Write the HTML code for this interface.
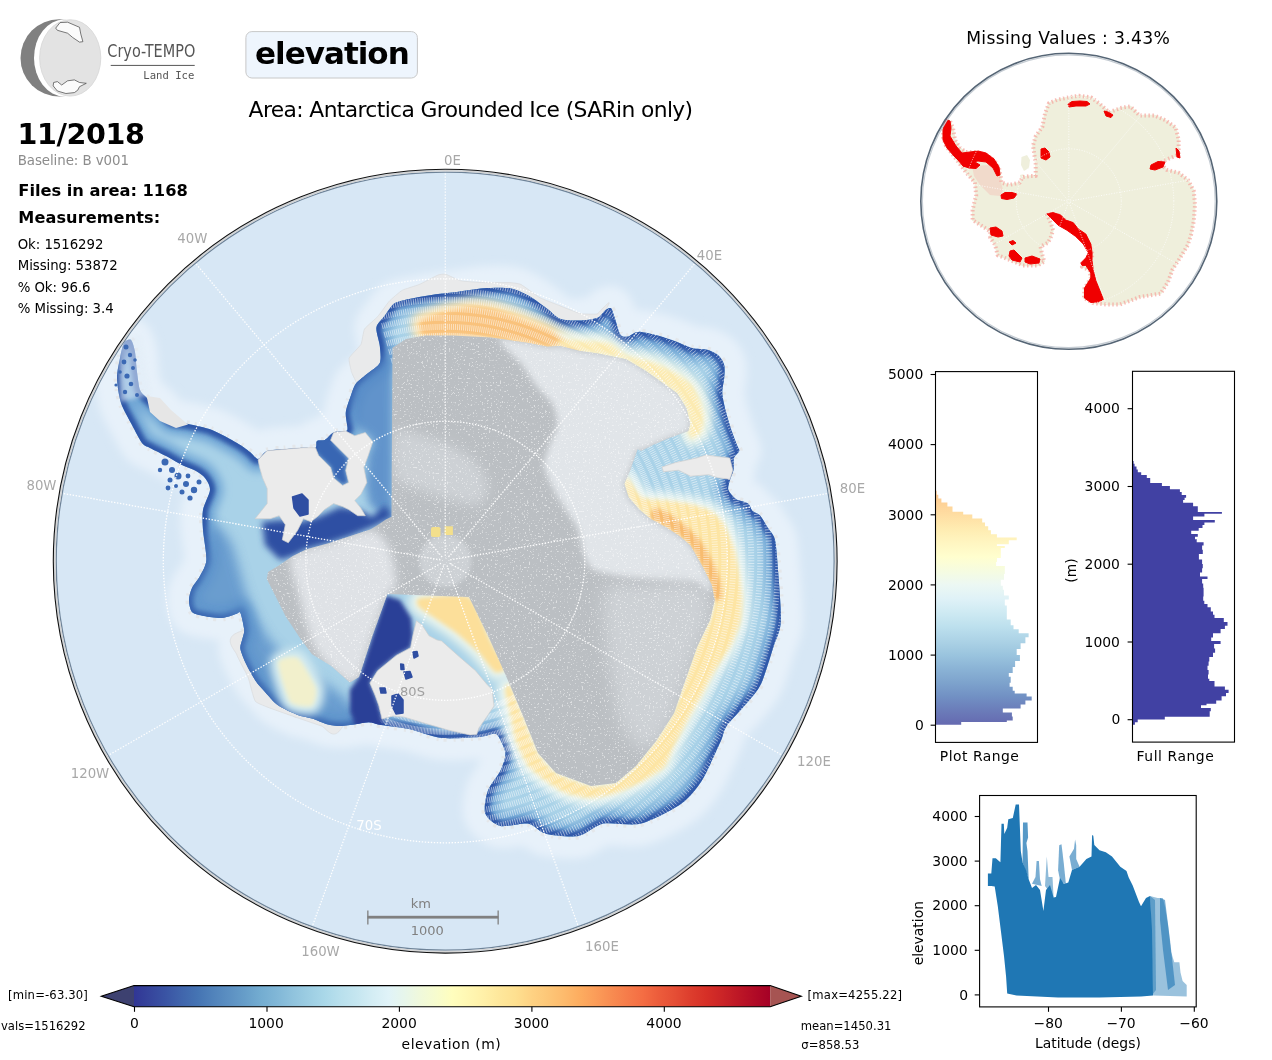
<!DOCTYPE html>
<html><head><meta charset="utf-8"><title>elevation</title>
<style>
html,body{margin:0;padding:0;background:#fff;}
body{width:1272px;height:1060px;overflow:hidden;position:relative;}
svg{position:absolute;left:0;top:0;will-change:transform;}
</style></head><body>
<svg width="1272" height="1060" viewBox="0 0 1272 1060" font-family="'DejaVu Sans', sans-serif">
<g id="logo">
<circle cx="59.1" cy="57.9" r="38.6" fill="#808080"/>
<ellipse cx="64" cy="57.9" rx="30" ry="38.4" fill="#ffffff"/>
<ellipse cx="70.2" cy="57.9" rx="30.6" ry="38.2" fill="#e3e3e3" stroke="#d6d6d6" stroke-width="0.8"/>
<polygon points="55.7,28.1 60,22.6 67.6,22.2 79.5,27.3 80.8,34.1 82.9,41.7 79.5,42.1 72.7,37.5 67.6,33.2 57.4,30.3" fill="#fbfbfb" stroke="#444" stroke-width="0.7"/>
<polygon points="53.6,82.5 57.4,81.6 61.7,85 67.6,80.8 74.4,79.9 79.5,82.5 86.3,83.3 79.5,86.7 77.8,90.1 74.4,92.6 65.9,93.5 57.4,91 53.2,85.9" fill="#fbfbfb" stroke="#444" stroke-width="0.7"/>
<text x="107.3" y="57.1" font-family="'DejaVu Sans Condensed','DejaVu Sans',sans-serif" font-size="17.5" fill="#555" textLength="88" lengthAdjust="spacingAndGlyphs">Cryo-TEMPO</text>
<rect x="110.7" y="64.9" width="84" height="1.1" fill="#666"/>
<text x="143.3" y="79" font-family="'DejaVu Sans Mono',monospace" font-size="11" fill="#555" textLength="51" lengthAdjust="spacingAndGlyphs">Land Ice</text>
</g>
<rect x="245.9" y="31.6" width="171.5" height="46.4" rx="6" ry="6" fill="#eef5fd" stroke="#c8c8c8" stroke-width="1"/>
<text x="255.10" y="64.10" font-family="'DejaVu Sans',sans-serif" font-size="31" font-weight="bold" fill="#000" textLength="154.62" lengthAdjust="spacing">elevation</text>
<text x="248.60" y="117.00" font-family="'DejaVu Sans',sans-serif" font-size="21.8" fill="#000" textLength="444.52" lengthAdjust="spacing">Area: Antarctica Grounded Ice (SARin only)</text>
<text x="17.60" y="143.90" font-family="'DejaVu Sans',sans-serif" font-size="28.6" font-weight="bold" fill="#000" textLength="127.23" lengthAdjust="spacing">11/2018</text>
<text x="17.70" y="165.10" font-family="'DejaVu Sans',sans-serif" font-size="13.4" fill="#8c8c8c" textLength="111.27" lengthAdjust="spacing">Baseline: B v001</text>
<text x="18.30" y="196.20" font-family="'DejaVu Sans',sans-serif" font-size="16.3" font-weight="bold" fill="#000" textLength="169.48" lengthAdjust="spacing">Files in area: 1168</text>
<text x="18.30" y="222.80" font-family="'DejaVu Sans',sans-serif" font-size="16.1" font-weight="bold" fill="#000" textLength="141.83" lengthAdjust="spacing">Measurements:</text>
<text x="17.70" y="248.90" font-family="'DejaVu Sans',sans-serif" font-size="13.3" fill="#000" textLength="85.69" lengthAdjust="spacing">Ok: 1516292</text>
<text x="17.70" y="269.80" font-family="'DejaVu Sans',sans-serif" font-size="13.3" fill="#000" textLength="99.99" lengthAdjust="spacing">Missing: 53872</text>
<text x="17.70" y="291.80" font-family="'DejaVu Sans',sans-serif" font-size="13.3" fill="#000" textLength="72.84" lengthAdjust="spacing">% Ok: 96.6</text>
<text x="17.70" y="313.00" font-family="'DejaVu Sans',sans-serif" font-size="13.3" fill="#000" textLength="95.91" lengthAdjust="spacing">% Missing: 3.4</text>
<text x="966.20" y="43.60" font-family="'DejaVu Sans',sans-serif" font-size="17.2" fill="#000" textLength="203.63" lengthAdjust="spacing">Missing Values : 3.43%</text>
<defs>
<clipPath id="mapclip"><circle cx="445.2" cy="561.2" r="391.6"/></clipPath>
<clipPath id="coastclip"><path d="M124.0,343.0 C125.5,340.6 129.5,338.8 131.0,340.0 C132.5,341.2 134.2,347.7 135.0,352.0 C135.8,356.3 136.3,366.9 137.0,372.0 C137.7,377.1 138.7,386.5 140.0,390.0 C141.3,393.5 144.3,395.3 147.0,398.0 C149.7,400.7 156.8,406.9 160.0,410.0 C163.2,413.1 167.3,419.1 171.0,421.0 C174.7,422.9 182.5,422.8 188.0,424.0 C193.5,425.2 205.5,427.5 212.0,430.0 C218.5,432.5 231.9,440.1 237.0,443.0 C242.1,445.9 247.2,449.9 250.0,452.0 C252.8,454.1 255.7,459.1 258.0,459.0 C260.3,458.9 263.4,452.3 267.0,451.0 C270.6,449.7 280.1,449.4 285.0,449.0 C289.9,448.6 299.3,447.9 303.4,447.7 C307.5,447.5 313.7,448.6 315.5,447.7 C317.3,446.8 315.7,442.0 317.0,441.0 C318.3,440.0 322.8,441.1 325.0,440.0 C327.2,438.9 330.8,433.8 333.6,432.6 C336.4,431.4 343.8,431.8 345.7,431.1 C347.6,430.4 347.5,430.0 347.5,427.5 C347.5,425.0 345.3,416.5 345.8,412.2 C346.3,407.9 349.6,399.1 351.0,395.3 C352.4,391.5 353.7,386.3 356.0,383.4 C358.3,380.5 364.7,375.9 367.9,373.2 C371.1,370.5 378.2,366.6 379.8,363.0 C381.4,359.4 380.3,350.7 379.8,346.0 C379.3,341.3 375.7,331.5 376.4,327.4 C377.1,323.3 382.4,318.8 384.9,315.5 C387.4,312.2 390.9,305.4 395.0,303.0 C399.1,300.6 409.8,298.9 415.5,297.7 C421.2,296.5 432.5,294.8 438.0,294.0 C443.5,293.2 450.9,292.8 457.0,292.0 C463.1,291.2 476.4,288.8 483.4,288.3 C490.4,287.8 503.8,287.3 509.8,288.3 C515.8,289.3 523.7,293.0 528.7,295.8 C533.7,298.6 543.3,305.9 547.5,309.0 C551.7,312.1 555.8,317.2 560.0,318.7 C564.2,320.2 573.9,320.7 578.9,320.6 C583.9,320.5 594.2,319.1 597.7,317.7 C601.2,316.3 603.5,311.5 605.3,310.2 C607.1,308.9 609.7,307.3 611.0,308.3 C612.3,309.3 613.4,314.2 614.7,317.7 C616.0,321.2 618.6,332.2 620.4,334.7 C622.2,337.2 625.7,337.0 628.0,336.6 C630.3,336.2 633.9,332.2 637.4,331.9 C640.9,331.6 649.5,333.6 654.3,334.7 C659.1,335.8 668.2,338.6 673.2,340.4 C678.2,342.2 687.5,346.7 692.0,348.0 C696.5,349.3 703.7,348.8 707.2,349.8 C710.7,350.8 716.2,353.5 718.5,355.5 C720.8,357.5 723.4,361.9 724.2,364.9 C725.0,367.9 724.5,374.3 724.2,378.1 C723.9,381.9 722.1,388.7 722.3,393.2 C722.5,397.7 724.7,407.0 726.0,412.0 C727.3,417.0 730.2,426.5 731.7,431.0 C733.2,435.5 736.4,443.3 737.4,446.0 C738.4,448.7 739.7,449.4 739.2,451.0 C738.7,452.6 734.8,455.5 734.0,458.0 C733.2,460.5 734.0,467.1 733.5,470.0 C733.0,472.9 730.7,477.4 730.0,480.0 C729.3,482.6 727.5,487.3 728.3,489.8 C729.1,492.3 733.2,497.1 735.8,498.9 C738.4,500.7 745.8,501.8 748.0,503.4 C750.2,505.0 750.9,509.4 752.5,511.0 C754.1,512.6 757.9,513.2 760.0,515.5 C762.1,517.8 766.0,524.7 768.0,528.0 C770.0,531.3 773.6,533.9 775.0,540.0 C776.4,546.1 777.5,562.6 778.3,573.6 C779.1,584.6 781.5,612.8 780.8,622.6 C780.1,632.4 776.0,638.8 773.4,647.0 C770.8,655.2 764.6,676.5 761.0,684.0 C757.4,691.5 751.0,698.0 746.4,703.6 C741.8,709.2 730.1,721.1 726.8,725.7 C723.5,730.3 723.3,734.8 722.0,738.0 C720.7,741.2 719.4,744.3 716.7,750.0 C714.0,755.7 706.3,773.9 701.6,781.0 C696.9,788.1 689.6,797.8 681.5,803.5 C673.4,809.2 651.4,820.9 641.0,823.6 C630.6,826.3 611.8,821.9 603.5,823.6 C595.2,825.3 586.1,834.7 578.4,836.0 C570.7,837.3 552.4,835.4 545.7,833.7 C539.0,832.0 534.0,824.6 528.0,823.6 C522.0,822.6 506.1,827.3 500.4,826.0 C494.7,824.7 487.0,818.3 485.3,813.6 C483.6,808.9 485.8,796.7 487.8,791.0 C489.8,785.3 498.1,775.8 500.4,770.8 C502.7,765.8 505.7,757.9 505.4,753.2 C505.1,748.5 499.7,738.2 497.9,735.6 C496.1,733.0 494.5,733.8 492.0,734.0 C489.5,734.2 485.8,736.5 479.0,737.0 C472.2,737.5 450.3,739.1 441.0,738.0 C431.7,736.9 417.0,730.7 409.0,729.0 C401.0,727.3 386.4,725.9 381.0,725.0 C375.6,724.1 372.1,722.4 368.7,722.3 C365.3,722.2 359.3,723.7 355.5,724.2 C351.7,724.7 344.2,726.0 340.4,726.0 C336.6,726.0 330.8,725.2 327.0,724.2 C323.2,723.2 316.0,719.8 312.0,718.5 C308.0,717.2 301.5,716.5 297.0,714.7 C292.5,712.9 282.3,708.3 278.0,705.3 C273.7,702.3 268.0,695.3 265.0,692.0 C262.0,688.7 258.0,684.6 255.5,680.8 C253.0,677.0 248.0,668.1 246.0,663.8 C244.0,659.5 240.9,652.0 240.4,648.7 C239.9,645.4 241.8,641.7 242.3,639.2 C242.8,636.7 244.5,633.3 244.2,629.8 C243.9,626.3 241.5,614.9 240.4,612.8 C239.3,610.7 238.5,613.3 236.0,614.0 C233.5,614.7 226.3,617.7 222.0,618.0 C217.7,618.3 208.0,616.8 204.0,616.0 C200.0,615.2 194.0,614.1 192.0,612.0 C190.0,609.9 189.0,603.2 189.0,600.0 C189.0,596.8 190.5,591.2 192.0,588.0 C193.5,584.8 198.1,579.7 200.0,576.0 C201.9,572.3 206.0,566.1 206.4,560.0 C206.8,553.9 203.5,536.7 203.0,530.0 C202.5,523.3 202.1,515.3 203.0,510.0 C203.9,504.7 209.7,494.3 210.0,490.0 C210.3,485.7 206.9,480.5 205.0,478.0 C203.1,475.5 199.1,472.7 196.0,471.0 C192.9,469.3 185.7,466.9 182.0,465.0 C178.3,463.1 172.3,459.3 168.0,457.0 C163.7,454.7 153.5,449.9 150.0,448.0 C146.5,446.1 144.4,446.1 142.0,443.0 C139.6,439.9 134.8,430.3 132.0,425.0 C129.2,419.7 123.0,409.3 121.0,403.0 C119.0,396.7 117.1,384.0 117.0,378.0 C116.9,372.0 119.1,362.7 120.0,358.0 C120.9,353.3 122.5,345.4 124.0,343.0Z"/></clipPath>
<filter id="speck" filterUnits="userSpaceOnUse" x="0" y="0" width="1272" height="1060"><feTurbulence type="fractalNoise" baseFrequency="0.55" numOctaves="2" seed="7" result="n"/><feColorMatrix in="n" type="matrix" values="0 0 0 0 1  0 0 0 0 1  0 0 0 0 1  0 0 0 8 -5.0"/><feComposite in2="SourceGraphic" operator="in"/></filter>
<filter id="blur2" filterUnits="userSpaceOnUse" x="0" y="0" width="1272" height="1060"><feGaussianBlur stdDeviation="2"/></filter>
<filter id="blur4" filterUnits="userSpaceOnUse" x="0" y="0" width="1272" height="1060"><feGaussianBlur stdDeviation="4"/></filter>
<filter id="blur3" filterUnits="userSpaceOnUse" x="0" y="0" width="1272" height="1060"><feGaussianBlur stdDeviation="3"/></filter>
<filter id="blur6" filterUnits="userSpaceOnUse" x="0" y="0" width="1272" height="1060"><feGaussianBlur stdDeviation="6"/></filter>
<filter id="blur8" filterUnits="userSpaceOnUse" x="0" y="0" width="1272" height="1060"><feGaussianBlur stdDeviation="8"/></filter>
</defs>
<g clip-path="url(#mapclip)">
<rect x="40" y="160" width="820" height="800" fill="#d7e7f5"/>
<path d="M124.0,343.0 C125.5,340.6 129.5,338.8 131.0,340.0 C132.5,341.2 134.2,347.7 135.0,352.0 C135.8,356.3 136.3,366.9 137.0,372.0 C137.7,377.1 138.7,386.5 140.0,390.0 C141.3,393.5 144.3,395.3 147.0,398.0 C149.7,400.7 156.8,406.9 160.0,410.0 C163.2,413.1 167.3,419.1 171.0,421.0 C174.7,422.9 182.5,422.8 188.0,424.0 C193.5,425.2 205.5,427.5 212.0,430.0 C218.5,432.5 231.9,440.1 237.0,443.0 C242.1,445.9 247.2,449.9 250.0,452.0 C252.8,454.1 255.7,459.1 258.0,459.0 C260.3,458.9 263.4,452.3 267.0,451.0 C270.6,449.7 280.1,449.4 285.0,449.0 C289.9,448.6 299.3,447.9 303.4,447.7 C307.5,447.5 313.7,448.6 315.5,447.7 C317.3,446.8 315.7,442.0 317.0,441.0 C318.3,440.0 322.8,441.1 325.0,440.0 C327.2,438.9 330.8,433.8 333.6,432.6 C336.4,431.4 343.8,431.8 345.7,431.1 C347.6,430.4 347.5,430.0 347.5,427.5 C347.5,425.0 345.3,416.5 345.8,412.2 C346.3,407.9 349.6,399.1 351.0,395.3 C352.4,391.5 353.7,386.3 356.0,383.4 C358.3,380.5 364.7,375.9 367.9,373.2 C371.1,370.5 378.2,366.6 379.8,363.0 C381.4,359.4 380.3,350.7 379.8,346.0 C379.3,341.3 375.7,331.5 376.4,327.4 C377.1,323.3 382.4,318.8 384.9,315.5 C387.4,312.2 390.9,305.4 395.0,303.0 C399.1,300.6 409.8,298.9 415.5,297.7 C421.2,296.5 432.5,294.8 438.0,294.0 C443.5,293.2 450.9,292.8 457.0,292.0 C463.1,291.2 476.4,288.8 483.4,288.3 C490.4,287.8 503.8,287.3 509.8,288.3 C515.8,289.3 523.7,293.0 528.7,295.8 C533.7,298.6 543.3,305.9 547.5,309.0 C551.7,312.1 555.8,317.2 560.0,318.7 C564.2,320.2 573.9,320.7 578.9,320.6 C583.9,320.5 594.2,319.1 597.7,317.7 C601.2,316.3 603.5,311.5 605.3,310.2 C607.1,308.9 609.7,307.3 611.0,308.3 C612.3,309.3 613.4,314.2 614.7,317.7 C616.0,321.2 618.6,332.2 620.4,334.7 C622.2,337.2 625.7,337.0 628.0,336.6 C630.3,336.2 633.9,332.2 637.4,331.9 C640.9,331.6 649.5,333.6 654.3,334.7 C659.1,335.8 668.2,338.6 673.2,340.4 C678.2,342.2 687.5,346.7 692.0,348.0 C696.5,349.3 703.7,348.8 707.2,349.8 C710.7,350.8 716.2,353.5 718.5,355.5 C720.8,357.5 723.4,361.9 724.2,364.9 C725.0,367.9 724.5,374.3 724.2,378.1 C723.9,381.9 722.1,388.7 722.3,393.2 C722.5,397.7 724.7,407.0 726.0,412.0 C727.3,417.0 730.2,426.5 731.7,431.0 C733.2,435.5 736.4,443.3 737.4,446.0 C738.4,448.7 739.7,449.4 739.2,451.0 C738.7,452.6 734.8,455.5 734.0,458.0 C733.2,460.5 734.0,467.1 733.5,470.0 C733.0,472.9 730.7,477.4 730.0,480.0 C729.3,482.6 727.5,487.3 728.3,489.8 C729.1,492.3 733.2,497.1 735.8,498.9 C738.4,500.7 745.8,501.8 748.0,503.4 C750.2,505.0 750.9,509.4 752.5,511.0 C754.1,512.6 757.9,513.2 760.0,515.5 C762.1,517.8 766.0,524.7 768.0,528.0 C770.0,531.3 773.6,533.9 775.0,540.0 C776.4,546.1 777.5,562.6 778.3,573.6 C779.1,584.6 781.5,612.8 780.8,622.6 C780.1,632.4 776.0,638.8 773.4,647.0 C770.8,655.2 764.6,676.5 761.0,684.0 C757.4,691.5 751.0,698.0 746.4,703.6 C741.8,709.2 730.1,721.1 726.8,725.7 C723.5,730.3 723.3,734.8 722.0,738.0 C720.7,741.2 719.4,744.3 716.7,750.0 C714.0,755.7 706.3,773.9 701.6,781.0 C696.9,788.1 689.6,797.8 681.5,803.5 C673.4,809.2 651.4,820.9 641.0,823.6 C630.6,826.3 611.8,821.9 603.5,823.6 C595.2,825.3 586.1,834.7 578.4,836.0 C570.7,837.3 552.4,835.4 545.7,833.7 C539.0,832.0 534.0,824.6 528.0,823.6 C522.0,822.6 506.1,827.3 500.4,826.0 C494.7,824.7 487.0,818.3 485.3,813.6 C483.6,808.9 485.8,796.7 487.8,791.0 C489.8,785.3 498.1,775.8 500.4,770.8 C502.7,765.8 505.7,757.9 505.4,753.2 C505.1,748.5 499.7,738.2 497.9,735.6 C496.1,733.0 494.5,733.8 492.0,734.0 C489.5,734.2 485.8,736.5 479.0,737.0 C472.2,737.5 450.3,739.1 441.0,738.0 C431.7,736.9 417.0,730.7 409.0,729.0 C401.0,727.3 386.4,725.9 381.0,725.0 C375.6,724.1 372.1,722.4 368.7,722.3 C365.3,722.2 359.3,723.7 355.5,724.2 C351.7,724.7 344.2,726.0 340.4,726.0 C336.6,726.0 330.8,725.2 327.0,724.2 C323.2,723.2 316.0,719.8 312.0,718.5 C308.0,717.2 301.5,716.5 297.0,714.7 C292.5,712.9 282.3,708.3 278.0,705.3 C273.7,702.3 268.0,695.3 265.0,692.0 C262.0,688.7 258.0,684.6 255.5,680.8 C253.0,677.0 248.0,668.1 246.0,663.8 C244.0,659.5 240.9,652.0 240.4,648.7 C239.9,645.4 241.8,641.7 242.3,639.2 C242.8,636.7 244.5,633.3 244.2,629.8 C243.9,626.3 241.5,614.9 240.4,612.8 C239.3,610.7 238.5,613.3 236.0,614.0 C233.5,614.7 226.3,617.7 222.0,618.0 C217.7,618.3 208.0,616.8 204.0,616.0 C200.0,615.2 194.0,614.1 192.0,612.0 C190.0,609.9 189.0,603.2 189.0,600.0 C189.0,596.8 190.5,591.2 192.0,588.0 C193.5,584.8 198.1,579.7 200.0,576.0 C201.9,572.3 206.0,566.1 206.4,560.0 C206.8,553.9 203.5,536.7 203.0,530.0 C202.5,523.3 202.1,515.3 203.0,510.0 C203.9,504.7 209.7,494.3 210.0,490.0 C210.3,485.7 206.9,480.5 205.0,478.0 C203.1,475.5 199.1,472.7 196.0,471.0 C192.9,469.3 185.7,466.9 182.0,465.0 C178.3,463.1 172.3,459.3 168.0,457.0 C163.7,454.7 153.5,449.9 150.0,448.0 C146.5,446.1 144.4,446.1 142.0,443.0 C139.6,439.9 134.8,430.3 132.0,425.0 C129.2,419.7 123.0,409.3 121.0,403.0 C119.0,396.7 117.1,384.0 117.0,378.0 C116.9,372.0 119.1,362.7 120.0,358.0 C120.9,353.3 122.5,345.4 124.0,343.0Z" fill="none" stroke="#e7f1fa" stroke-width="44" stroke-linejoin="round" filter="url(#blur4)"/>
<path d="M124.0,343.0 C125.5,340.6 129.5,338.8 131.0,340.0 C132.5,341.2 134.2,347.7 135.0,352.0 C135.8,356.3 136.3,366.9 137.0,372.0 C137.7,377.1 138.7,386.5 140.0,390.0 C141.3,393.5 144.3,395.3 147.0,398.0 C149.7,400.7 156.8,406.9 160.0,410.0 C163.2,413.1 167.3,419.1 171.0,421.0 C174.7,422.9 182.5,422.8 188.0,424.0 C193.5,425.2 205.5,427.5 212.0,430.0 C218.5,432.5 231.9,440.1 237.0,443.0 C242.1,445.9 247.2,449.9 250.0,452.0 C252.8,454.1 255.7,459.1 258.0,459.0 C260.3,458.9 263.4,452.3 267.0,451.0 C270.6,449.7 280.1,449.4 285.0,449.0 C289.9,448.6 299.3,447.9 303.4,447.7 C307.5,447.5 313.7,448.6 315.5,447.7 C317.3,446.8 315.7,442.0 317.0,441.0 C318.3,440.0 322.8,441.1 325.0,440.0 C327.2,438.9 330.8,433.8 333.6,432.6 C336.4,431.4 343.8,431.8 345.7,431.1 C347.6,430.4 347.5,430.0 347.5,427.5 C347.5,425.0 345.3,416.5 345.8,412.2 C346.3,407.9 349.6,399.1 351.0,395.3 C352.4,391.5 353.7,386.3 356.0,383.4 C358.3,380.5 364.7,375.9 367.9,373.2 C371.1,370.5 378.2,366.6 379.8,363.0 C381.4,359.4 380.3,350.7 379.8,346.0 C379.3,341.3 375.7,331.5 376.4,327.4 C377.1,323.3 382.4,318.8 384.9,315.5 C387.4,312.2 390.9,305.4 395.0,303.0 C399.1,300.6 409.8,298.9 415.5,297.7 C421.2,296.5 432.5,294.8 438.0,294.0 C443.5,293.2 450.9,292.8 457.0,292.0 C463.1,291.2 476.4,288.8 483.4,288.3 C490.4,287.8 503.8,287.3 509.8,288.3 C515.8,289.3 523.7,293.0 528.7,295.8 C533.7,298.6 543.3,305.9 547.5,309.0 C551.7,312.1 555.8,317.2 560.0,318.7 C564.2,320.2 573.9,320.7 578.9,320.6 C583.9,320.5 594.2,319.1 597.7,317.7 C601.2,316.3 603.5,311.5 605.3,310.2 C607.1,308.9 609.7,307.3 611.0,308.3 C612.3,309.3 613.4,314.2 614.7,317.7 C616.0,321.2 618.6,332.2 620.4,334.7 C622.2,337.2 625.7,337.0 628.0,336.6 C630.3,336.2 633.9,332.2 637.4,331.9 C640.9,331.6 649.5,333.6 654.3,334.7 C659.1,335.8 668.2,338.6 673.2,340.4 C678.2,342.2 687.5,346.7 692.0,348.0 C696.5,349.3 703.7,348.8 707.2,349.8 C710.7,350.8 716.2,353.5 718.5,355.5 C720.8,357.5 723.4,361.9 724.2,364.9 C725.0,367.9 724.5,374.3 724.2,378.1 C723.9,381.9 722.1,388.7 722.3,393.2 C722.5,397.7 724.7,407.0 726.0,412.0 C727.3,417.0 730.2,426.5 731.7,431.0 C733.2,435.5 736.4,443.3 737.4,446.0 C738.4,448.7 739.7,449.4 739.2,451.0 C738.7,452.6 734.8,455.5 734.0,458.0 C733.2,460.5 734.0,467.1 733.5,470.0 C733.0,472.9 730.7,477.4 730.0,480.0 C729.3,482.6 727.5,487.3 728.3,489.8 C729.1,492.3 733.2,497.1 735.8,498.9 C738.4,500.7 745.8,501.8 748.0,503.4 C750.2,505.0 750.9,509.4 752.5,511.0 C754.1,512.6 757.9,513.2 760.0,515.5 C762.1,517.8 766.0,524.7 768.0,528.0 C770.0,531.3 773.6,533.9 775.0,540.0 C776.4,546.1 777.5,562.6 778.3,573.6 C779.1,584.6 781.5,612.8 780.8,622.6 C780.1,632.4 776.0,638.8 773.4,647.0 C770.8,655.2 764.6,676.5 761.0,684.0 C757.4,691.5 751.0,698.0 746.4,703.6 C741.8,709.2 730.1,721.1 726.8,725.7 C723.5,730.3 723.3,734.8 722.0,738.0 C720.7,741.2 719.4,744.3 716.7,750.0 C714.0,755.7 706.3,773.9 701.6,781.0 C696.9,788.1 689.6,797.8 681.5,803.5 C673.4,809.2 651.4,820.9 641.0,823.6 C630.6,826.3 611.8,821.9 603.5,823.6 C595.2,825.3 586.1,834.7 578.4,836.0 C570.7,837.3 552.4,835.4 545.7,833.7 C539.0,832.0 534.0,824.6 528.0,823.6 C522.0,822.6 506.1,827.3 500.4,826.0 C494.7,824.7 487.0,818.3 485.3,813.6 C483.6,808.9 485.8,796.7 487.8,791.0 C489.8,785.3 498.1,775.8 500.4,770.8 C502.7,765.8 505.7,757.9 505.4,753.2 C505.1,748.5 499.7,738.2 497.9,735.6 C496.1,733.0 494.5,733.8 492.0,734.0 C489.5,734.2 485.8,736.5 479.0,737.0 C472.2,737.5 450.3,739.1 441.0,738.0 C431.7,736.9 417.0,730.7 409.0,729.0 C401.0,727.3 386.4,725.9 381.0,725.0 C375.6,724.1 372.1,722.4 368.7,722.3 C365.3,722.2 359.3,723.7 355.5,724.2 C351.7,724.7 344.2,726.0 340.4,726.0 C336.6,726.0 330.8,725.2 327.0,724.2 C323.2,723.2 316.0,719.8 312.0,718.5 C308.0,717.2 301.5,716.5 297.0,714.7 C292.5,712.9 282.3,708.3 278.0,705.3 C273.7,702.3 268.0,695.3 265.0,692.0 C262.0,688.7 258.0,684.6 255.5,680.8 C253.0,677.0 248.0,668.1 246.0,663.8 C244.0,659.5 240.9,652.0 240.4,648.7 C239.9,645.4 241.8,641.7 242.3,639.2 C242.8,636.7 244.5,633.3 244.2,629.8 C243.9,626.3 241.5,614.9 240.4,612.8 C239.3,610.7 238.5,613.3 236.0,614.0 C233.5,614.7 226.3,617.7 222.0,618.0 C217.7,618.3 208.0,616.8 204.0,616.0 C200.0,615.2 194.0,614.1 192.0,612.0 C190.0,609.9 189.0,603.2 189.0,600.0 C189.0,596.8 190.5,591.2 192.0,588.0 C193.5,584.8 198.1,579.7 200.0,576.0 C201.9,572.3 206.0,566.1 206.4,560.0 C206.8,553.9 203.5,536.7 203.0,530.0 C202.5,523.3 202.1,515.3 203.0,510.0 C203.9,504.7 209.7,494.3 210.0,490.0 C210.3,485.7 206.9,480.5 205.0,478.0 C203.1,475.5 199.1,472.7 196.0,471.0 C192.9,469.3 185.7,466.9 182.0,465.0 C178.3,463.1 172.3,459.3 168.0,457.0 C163.7,454.7 153.5,449.9 150.0,448.0 C146.5,446.1 144.4,446.1 142.0,443.0 C139.6,439.9 134.8,430.3 132.0,425.0 C129.2,419.7 123.0,409.3 121.0,403.0 C119.0,396.7 117.1,384.0 117.0,378.0 C116.9,372.0 119.1,362.7 120.0,358.0 C120.9,353.3 122.5,345.4 124.0,343.0Z" fill="#e7f1fa"/>
<path d="M124.0,343.0 C125.5,340.6 129.5,338.8 131.0,340.0 C132.5,341.2 134.2,347.7 135.0,352.0 C135.8,356.3 136.3,366.9 137.0,372.0 C137.7,377.1 138.7,386.5 140.0,390.0 C141.3,393.5 144.3,395.3 147.0,398.0 C149.7,400.7 156.8,406.9 160.0,410.0 C163.2,413.1 167.3,419.1 171.0,421.0 C174.7,422.9 182.5,422.8 188.0,424.0 C193.5,425.2 205.5,427.5 212.0,430.0 C218.5,432.5 231.9,440.1 237.0,443.0 C242.1,445.9 247.2,449.9 250.0,452.0 C252.8,454.1 255.7,459.1 258.0,459.0 C260.3,458.9 263.4,452.3 267.0,451.0 C270.6,449.7 280.1,449.4 285.0,449.0 C289.9,448.6 299.3,447.9 303.4,447.7 C307.5,447.5 313.7,448.6 315.5,447.7 C317.3,446.8 315.7,442.0 317.0,441.0 C318.3,440.0 322.8,441.1 325.0,440.0 C327.2,438.9 330.8,433.8 333.6,432.6 C336.4,431.4 343.8,431.8 345.7,431.1 C347.6,430.4 347.5,430.0 347.5,427.5 C347.5,425.0 345.3,416.5 345.8,412.2 C346.3,407.9 349.6,399.1 351.0,395.3 C352.4,391.5 353.7,386.3 356.0,383.4 C358.3,380.5 364.7,375.9 367.9,373.2 C371.1,370.5 378.2,366.6 379.8,363.0 C381.4,359.4 380.3,350.7 379.8,346.0 C379.3,341.3 375.7,331.5 376.4,327.4 C377.1,323.3 382.4,318.8 384.9,315.5 C387.4,312.2 390.9,305.4 395.0,303.0 C399.1,300.6 409.8,298.9 415.5,297.7 C421.2,296.5 432.5,294.8 438.0,294.0 C443.5,293.2 450.9,292.8 457.0,292.0 C463.1,291.2 476.4,288.8 483.4,288.3 C490.4,287.8 503.8,287.3 509.8,288.3 C515.8,289.3 523.7,293.0 528.7,295.8 C533.7,298.6 543.3,305.9 547.5,309.0 C551.7,312.1 555.8,317.2 560.0,318.7 C564.2,320.2 573.9,320.7 578.9,320.6 C583.9,320.5 594.2,319.1 597.7,317.7 C601.2,316.3 603.5,311.5 605.3,310.2 C607.1,308.9 609.7,307.3 611.0,308.3 C612.3,309.3 613.4,314.2 614.7,317.7 C616.0,321.2 618.6,332.2 620.4,334.7 C622.2,337.2 625.7,337.0 628.0,336.6 C630.3,336.2 633.9,332.2 637.4,331.9 C640.9,331.6 649.5,333.6 654.3,334.7 C659.1,335.8 668.2,338.6 673.2,340.4 C678.2,342.2 687.5,346.7 692.0,348.0 C696.5,349.3 703.7,348.8 707.2,349.8 C710.7,350.8 716.2,353.5 718.5,355.5 C720.8,357.5 723.4,361.9 724.2,364.9 C725.0,367.9 724.5,374.3 724.2,378.1 C723.9,381.9 722.1,388.7 722.3,393.2 C722.5,397.7 724.7,407.0 726.0,412.0 C727.3,417.0 730.2,426.5 731.7,431.0 C733.2,435.5 736.4,443.3 737.4,446.0 C738.4,448.7 739.7,449.4 739.2,451.0 C738.7,452.6 734.8,455.5 734.0,458.0 C733.2,460.5 734.0,467.1 733.5,470.0 C733.0,472.9 730.7,477.4 730.0,480.0 C729.3,482.6 727.5,487.3 728.3,489.8 C729.1,492.3 733.2,497.1 735.8,498.9 C738.4,500.7 745.8,501.8 748.0,503.4 C750.2,505.0 750.9,509.4 752.5,511.0 C754.1,512.6 757.9,513.2 760.0,515.5 C762.1,517.8 766.0,524.7 768.0,528.0 C770.0,531.3 773.6,533.9 775.0,540.0 C776.4,546.1 777.5,562.6 778.3,573.6 C779.1,584.6 781.5,612.8 780.8,622.6 C780.1,632.4 776.0,638.8 773.4,647.0 C770.8,655.2 764.6,676.5 761.0,684.0 C757.4,691.5 751.0,698.0 746.4,703.6 C741.8,709.2 730.1,721.1 726.8,725.7 C723.5,730.3 723.3,734.8 722.0,738.0 C720.7,741.2 719.4,744.3 716.7,750.0 C714.0,755.7 706.3,773.9 701.6,781.0 C696.9,788.1 689.6,797.8 681.5,803.5 C673.4,809.2 651.4,820.9 641.0,823.6 C630.6,826.3 611.8,821.9 603.5,823.6 C595.2,825.3 586.1,834.7 578.4,836.0 C570.7,837.3 552.4,835.4 545.7,833.7 C539.0,832.0 534.0,824.6 528.0,823.6 C522.0,822.6 506.1,827.3 500.4,826.0 C494.7,824.7 487.0,818.3 485.3,813.6 C483.6,808.9 485.8,796.7 487.8,791.0 C489.8,785.3 498.1,775.8 500.4,770.8 C502.7,765.8 505.7,757.9 505.4,753.2 C505.1,748.5 499.7,738.2 497.9,735.6 C496.1,733.0 494.5,733.8 492.0,734.0 C489.5,734.2 485.8,736.5 479.0,737.0 C472.2,737.5 450.3,739.1 441.0,738.0 C431.7,736.9 417.0,730.7 409.0,729.0 C401.0,727.3 386.4,725.9 381.0,725.0 C375.6,724.1 372.1,722.4 368.7,722.3 C365.3,722.2 359.3,723.7 355.5,724.2 C351.7,724.7 344.2,726.0 340.4,726.0 C336.6,726.0 330.8,725.2 327.0,724.2 C323.2,723.2 316.0,719.8 312.0,718.5 C308.0,717.2 301.5,716.5 297.0,714.7 C292.5,712.9 282.3,708.3 278.0,705.3 C273.7,702.3 268.0,695.3 265.0,692.0 C262.0,688.7 258.0,684.6 255.5,680.8 C253.0,677.0 248.0,668.1 246.0,663.8 C244.0,659.5 240.9,652.0 240.4,648.7 C239.9,645.4 241.8,641.7 242.3,639.2 C242.8,636.7 244.5,633.3 244.2,629.8 C243.9,626.3 241.5,614.9 240.4,612.8 C239.3,610.7 238.5,613.3 236.0,614.0 C233.5,614.7 226.3,617.7 222.0,618.0 C217.7,618.3 208.0,616.8 204.0,616.0 C200.0,615.2 194.0,614.1 192.0,612.0 C190.0,609.9 189.0,603.2 189.0,600.0 C189.0,596.8 190.5,591.2 192.0,588.0 C193.5,584.8 198.1,579.7 200.0,576.0 C201.9,572.3 206.0,566.1 206.4,560.0 C206.8,553.9 203.5,536.7 203.0,530.0 C202.5,523.3 202.1,515.3 203.0,510.0 C203.9,504.7 209.7,494.3 210.0,490.0 C210.3,485.7 206.9,480.5 205.0,478.0 C203.1,475.5 199.1,472.7 196.0,471.0 C192.9,469.3 185.7,466.9 182.0,465.0 C178.3,463.1 172.3,459.3 168.0,457.0 C163.7,454.7 153.5,449.9 150.0,448.0 C146.5,446.1 144.4,446.1 142.0,443.0 C139.6,439.9 134.8,430.3 132.0,425.0 C129.2,419.7 123.0,409.3 121.0,403.0 C119.0,396.7 117.1,384.0 117.0,378.0 C116.9,372.0 119.1,362.7 120.0,358.0 C120.9,353.3 122.5,345.4 124.0,343.0Z" fill="none" stroke="#e4e7ea" stroke-width="7" stroke-linejoin="round" stroke-dasharray="3 5 2 7"/>
<path d="M356.0,381.7 C349.7,368.9 351.5,371.4 351.0,369.8 C350.5,368.2 348.5,359.6 349.2,357.9 C349.9,356.2 360.0,346.2 361.0,344.3 C362.0,342.4 363.4,330.8 364.5,329.0 C365.6,327.2 376.1,318.4 377.7,316.6 C379.3,314.8 387.4,303.3 389.0,301.5 C390.6,299.7 400.3,291.3 402.3,290.2 C404.3,289.1 416.8,285.5 419.2,284.5 C421.6,283.5 436.2,275.7 438.0,275.0 C439.8,274.3 444.2,273.8 445.7,274.2 C447.2,274.6 458.3,280.2 460.8,280.8 C463.3,281.4 480.1,282.5 483.4,282.6 C486.7,282.7 507.3,282.5 509.8,282.6 C512.3,282.7 519.0,283.5 521.0,284.5 C523.0,285.5 537.5,296.3 540.0,297.7 C542.5,299.1 556.2,304.2 558.9,305.3 C561.6,306.4 577.5,312.9 580.0,313.5 C582.5,314.1 595.3,314.3 597.0,314.0 C598.7,313.7 616.1,292.5 606.0,309.0 C595.9,325.5 461.9,556.4 445.2,561.2 C428.5,566.0 362.3,394.5 356.0,381.7Z" fill="#e9eaeb" stroke="#d6d8da" stroke-width="0.6"/>
<path d="M236.6,633.0 C222.7,639.2 235.8,651.4 236.6,654.3 C237.4,657.2 246.7,673.9 248.0,677.0 C249.3,680.1 253.5,699.2 255.5,701.5 C257.5,703.8 273.6,709.4 278.0,711.0 C282.4,712.6 317.3,724.7 321.5,726.0 C325.7,727.3 332.2,740.8 340.4,729.8 C348.6,718.8 452.1,567.7 445.2,561.2 C438.3,554.7 250.5,626.8 236.6,633.0Z" fill="#e9eaeb" stroke="#d6d8da" stroke-width="0.6"/>
<g clip-path="url(#coastclip)">
<path d="M124.0,343.0 C125.5,340.6 129.5,338.8 131.0,340.0 C132.5,341.2 134.2,347.7 135.0,352.0 C135.8,356.3 136.3,366.9 137.0,372.0 C137.7,377.1 138.7,386.5 140.0,390.0 C141.3,393.5 144.3,395.3 147.0,398.0 C149.7,400.7 156.8,406.9 160.0,410.0 C163.2,413.1 167.3,419.1 171.0,421.0 C174.7,422.9 182.5,422.8 188.0,424.0 C193.5,425.2 205.5,427.5 212.0,430.0 C218.5,432.5 231.9,440.1 237.0,443.0 C242.1,445.9 247.2,449.9 250.0,452.0 C252.8,454.1 255.7,459.1 258.0,459.0 C260.3,458.9 263.4,452.3 267.0,451.0 C270.6,449.7 280.1,449.4 285.0,449.0 C289.9,448.6 299.3,447.9 303.4,447.7 C307.5,447.5 313.7,448.6 315.5,447.7 C317.3,446.8 315.7,442.0 317.0,441.0 C318.3,440.0 322.8,441.1 325.0,440.0 C327.2,438.9 330.8,433.8 333.6,432.6 C336.4,431.4 343.8,431.8 345.7,431.1 C347.6,430.4 347.5,430.0 347.5,427.5 C347.5,425.0 345.3,416.5 345.8,412.2 C346.3,407.9 349.6,399.1 351.0,395.3 C352.4,391.5 353.7,386.3 356.0,383.4 C358.3,380.5 364.7,375.9 367.9,373.2 C371.1,370.5 378.2,366.6 379.8,363.0 C381.4,359.4 380.3,350.7 379.8,346.0 C379.3,341.3 375.7,331.5 376.4,327.4 C377.1,323.3 382.4,318.8 384.9,315.5 C387.4,312.2 390.9,305.4 395.0,303.0 C399.1,300.6 409.8,298.9 415.5,297.7 C421.2,296.5 432.5,294.8 438.0,294.0 C443.5,293.2 450.9,292.8 457.0,292.0 C463.1,291.2 476.4,288.8 483.4,288.3 C490.4,287.8 503.8,287.3 509.8,288.3 C515.8,289.3 523.7,293.0 528.7,295.8 C533.7,298.6 543.3,305.9 547.5,309.0 C551.7,312.1 555.8,317.2 560.0,318.7 C564.2,320.2 573.9,320.7 578.9,320.6 C583.9,320.5 594.2,319.1 597.7,317.7 C601.2,316.3 603.5,311.5 605.3,310.2 C607.1,308.9 609.7,307.3 611.0,308.3 C612.3,309.3 613.4,314.2 614.7,317.7 C616.0,321.2 618.6,332.2 620.4,334.7 C622.2,337.2 625.7,337.0 628.0,336.6 C630.3,336.2 633.9,332.2 637.4,331.9 C640.9,331.6 649.5,333.6 654.3,334.7 C659.1,335.8 668.2,338.6 673.2,340.4 C678.2,342.2 687.5,346.7 692.0,348.0 C696.5,349.3 703.7,348.8 707.2,349.8 C710.7,350.8 716.2,353.5 718.5,355.5 C720.8,357.5 723.4,361.9 724.2,364.9 C725.0,367.9 724.5,374.3 724.2,378.1 C723.9,381.9 722.1,388.7 722.3,393.2 C722.5,397.7 724.7,407.0 726.0,412.0 C727.3,417.0 730.2,426.5 731.7,431.0 C733.2,435.5 736.4,443.3 737.4,446.0 C738.4,448.7 739.7,449.4 739.2,451.0 C738.7,452.6 734.8,455.5 734.0,458.0 C733.2,460.5 734.0,467.1 733.5,470.0 C733.0,472.9 730.7,477.4 730.0,480.0 C729.3,482.6 727.5,487.3 728.3,489.8 C729.1,492.3 733.2,497.1 735.8,498.9 C738.4,500.7 745.8,501.8 748.0,503.4 C750.2,505.0 750.9,509.4 752.5,511.0 C754.1,512.6 757.9,513.2 760.0,515.5 C762.1,517.8 766.0,524.7 768.0,528.0 C770.0,531.3 773.6,533.9 775.0,540.0 C776.4,546.1 777.5,562.6 778.3,573.6 C779.1,584.6 781.5,612.8 780.8,622.6 C780.1,632.4 776.0,638.8 773.4,647.0 C770.8,655.2 764.6,676.5 761.0,684.0 C757.4,691.5 751.0,698.0 746.4,703.6 C741.8,709.2 730.1,721.1 726.8,725.7 C723.5,730.3 723.3,734.8 722.0,738.0 C720.7,741.2 719.4,744.3 716.7,750.0 C714.0,755.7 706.3,773.9 701.6,781.0 C696.9,788.1 689.6,797.8 681.5,803.5 C673.4,809.2 651.4,820.9 641.0,823.6 C630.6,826.3 611.8,821.9 603.5,823.6 C595.2,825.3 586.1,834.7 578.4,836.0 C570.7,837.3 552.4,835.4 545.7,833.7 C539.0,832.0 534.0,824.6 528.0,823.6 C522.0,822.6 506.1,827.3 500.4,826.0 C494.7,824.7 487.0,818.3 485.3,813.6 C483.6,808.9 485.8,796.7 487.8,791.0 C489.8,785.3 498.1,775.8 500.4,770.8 C502.7,765.8 505.7,757.9 505.4,753.2 C505.1,748.5 499.7,738.2 497.9,735.6 C496.1,733.0 494.5,733.8 492.0,734.0 C489.5,734.2 485.8,736.5 479.0,737.0 C472.2,737.5 450.3,739.1 441.0,738.0 C431.7,736.9 417.0,730.7 409.0,729.0 C401.0,727.3 386.4,725.9 381.0,725.0 C375.6,724.1 372.1,722.4 368.7,722.3 C365.3,722.2 359.3,723.7 355.5,724.2 C351.7,724.7 344.2,726.0 340.4,726.0 C336.6,726.0 330.8,725.2 327.0,724.2 C323.2,723.2 316.0,719.8 312.0,718.5 C308.0,717.2 301.5,716.5 297.0,714.7 C292.5,712.9 282.3,708.3 278.0,705.3 C273.7,702.3 268.0,695.3 265.0,692.0 C262.0,688.7 258.0,684.6 255.5,680.8 C253.0,677.0 248.0,668.1 246.0,663.8 C244.0,659.5 240.9,652.0 240.4,648.7 C239.9,645.4 241.8,641.7 242.3,639.2 C242.8,636.7 244.5,633.3 244.2,629.8 C243.9,626.3 241.5,614.9 240.4,612.8 C239.3,610.7 238.5,613.3 236.0,614.0 C233.5,614.7 226.3,617.7 222.0,618.0 C217.7,618.3 208.0,616.8 204.0,616.0 C200.0,615.2 194.0,614.1 192.0,612.0 C190.0,609.9 189.0,603.2 189.0,600.0 C189.0,596.8 190.5,591.2 192.0,588.0 C193.5,584.8 198.1,579.7 200.0,576.0 C201.9,572.3 206.0,566.1 206.4,560.0 C206.8,553.9 203.5,536.7 203.0,530.0 C202.5,523.3 202.1,515.3 203.0,510.0 C203.9,504.7 209.7,494.3 210.0,490.0 C210.3,485.7 206.9,480.5 205.0,478.0 C203.1,475.5 199.1,472.7 196.0,471.0 C192.9,469.3 185.7,466.9 182.0,465.0 C178.3,463.1 172.3,459.3 168.0,457.0 C163.7,454.7 153.5,449.9 150.0,448.0 C146.5,446.1 144.4,446.1 142.0,443.0 C139.6,439.9 134.8,430.3 132.0,425.0 C129.2,419.7 123.0,409.3 121.0,403.0 C119.0,396.7 117.1,384.0 117.0,378.0 C116.9,372.0 119.1,362.7 120.0,358.0 C120.9,353.3 122.5,345.4 124.0,343.0Z" fill="#a9d2e8"/>
<path d="M124.0,343.0 C125.5,340.6 129.5,338.8 131.0,340.0 C132.5,341.2 134.2,347.7 135.0,352.0 C135.8,356.3 136.3,366.9 137.0,372.0 C137.7,377.1 138.7,386.5 140.0,390.0 C141.3,393.5 144.3,395.3 147.0,398.0 C149.7,400.7 156.8,406.9 160.0,410.0 C163.2,413.1 167.3,419.1 171.0,421.0 C174.7,422.9 182.5,422.8 188.0,424.0 C193.5,425.2 205.5,427.5 212.0,430.0 C218.5,432.5 231.9,440.1 237.0,443.0 C242.1,445.9 247.2,449.9 250.0,452.0 C252.8,454.1 255.7,459.1 258.0,459.0 C260.3,458.9 263.4,452.3 267.0,451.0 C270.6,449.7 280.1,449.4 285.0,449.0 C289.9,448.6 299.3,447.9 303.4,447.7 C307.5,447.5 313.7,448.6 315.5,447.7 C317.3,446.8 315.7,442.0 317.0,441.0 C318.3,440.0 322.8,441.1 325.0,440.0 C327.2,438.9 330.8,433.8 333.6,432.6 C336.4,431.4 343.8,431.8 345.7,431.1 C347.6,430.4 347.5,430.0 347.5,427.5 C347.5,425.0 345.3,416.5 345.8,412.2 C346.3,407.9 349.6,399.1 351.0,395.3 C352.4,391.5 353.7,386.3 356.0,383.4 C358.3,380.5 364.7,375.9 367.9,373.2 C371.1,370.5 378.2,366.6 379.8,363.0 C381.4,359.4 380.3,350.7 379.8,346.0 C379.3,341.3 375.7,331.5 376.4,327.4 C377.1,323.3 382.4,318.8 384.9,315.5 C387.4,312.2 390.9,305.4 395.0,303.0 C399.1,300.6 409.8,298.9 415.5,297.7 C421.2,296.5 432.5,294.8 438.0,294.0 C443.5,293.2 450.9,292.8 457.0,292.0 C463.1,291.2 476.4,288.8 483.4,288.3 C490.4,287.8 503.8,287.3 509.8,288.3 C515.8,289.3 523.7,293.0 528.7,295.8 C533.7,298.6 543.3,305.9 547.5,309.0 C551.7,312.1 555.8,317.2 560.0,318.7 C564.2,320.2 573.9,320.7 578.9,320.6 C583.9,320.5 594.2,319.1 597.7,317.7 C601.2,316.3 603.5,311.5 605.3,310.2 C607.1,308.9 609.7,307.3 611.0,308.3 C612.3,309.3 613.4,314.2 614.7,317.7 C616.0,321.2 618.6,332.2 620.4,334.7 C622.2,337.2 625.7,337.0 628.0,336.6 C630.3,336.2 633.9,332.2 637.4,331.9 C640.9,331.6 649.5,333.6 654.3,334.7 C659.1,335.8 668.2,338.6 673.2,340.4 C678.2,342.2 687.5,346.7 692.0,348.0 C696.5,349.3 703.7,348.8 707.2,349.8 C710.7,350.8 716.2,353.5 718.5,355.5 C720.8,357.5 723.4,361.9 724.2,364.9 C725.0,367.9 724.5,374.3 724.2,378.1 C723.9,381.9 722.1,388.7 722.3,393.2 C722.5,397.7 724.7,407.0 726.0,412.0 C727.3,417.0 730.2,426.5 731.7,431.0 C733.2,435.5 736.4,443.3 737.4,446.0 C738.4,448.7 739.7,449.4 739.2,451.0 C738.7,452.6 734.8,455.5 734.0,458.0 C733.2,460.5 734.0,467.1 733.5,470.0 C733.0,472.9 730.7,477.4 730.0,480.0 C729.3,482.6 727.5,487.3 728.3,489.8 C729.1,492.3 733.2,497.1 735.8,498.9 C738.4,500.7 745.8,501.8 748.0,503.4 C750.2,505.0 750.9,509.4 752.5,511.0 C754.1,512.6 757.9,513.2 760.0,515.5 C762.1,517.8 766.0,524.7 768.0,528.0 C770.0,531.3 773.6,533.9 775.0,540.0 C776.4,546.1 777.5,562.6 778.3,573.6 C779.1,584.6 781.5,612.8 780.8,622.6 C780.1,632.4 776.0,638.8 773.4,647.0 C770.8,655.2 764.6,676.5 761.0,684.0 C757.4,691.5 751.0,698.0 746.4,703.6 C741.8,709.2 730.1,721.1 726.8,725.7 C723.5,730.3 723.3,734.8 722.0,738.0 C720.7,741.2 719.4,744.3 716.7,750.0 C714.0,755.7 706.3,773.9 701.6,781.0 C696.9,788.1 689.6,797.8 681.5,803.5 C673.4,809.2 651.4,820.9 641.0,823.6 C630.6,826.3 611.8,821.9 603.5,823.6 C595.2,825.3 586.1,834.7 578.4,836.0 C570.7,837.3 552.4,835.4 545.7,833.7 C539.0,832.0 534.0,824.6 528.0,823.6 C522.0,822.6 506.1,827.3 500.4,826.0 C494.7,824.7 487.0,818.3 485.3,813.6 C483.6,808.9 485.8,796.7 487.8,791.0 C489.8,785.3 498.1,775.8 500.4,770.8 C502.7,765.8 505.7,757.9 505.4,753.2 C505.1,748.5 499.7,738.2 497.9,735.6 C496.1,733.0 494.5,733.8 492.0,734.0 C489.5,734.2 485.8,736.5 479.0,737.0 C472.2,737.5 450.3,739.1 441.0,738.0 C431.7,736.9 417.0,730.7 409.0,729.0 C401.0,727.3 386.4,725.9 381.0,725.0 C375.6,724.1 372.1,722.4 368.7,722.3 C365.3,722.2 359.3,723.7 355.5,724.2 C351.7,724.7 344.2,726.0 340.4,726.0 C336.6,726.0 330.8,725.2 327.0,724.2 C323.2,723.2 316.0,719.8 312.0,718.5 C308.0,717.2 301.5,716.5 297.0,714.7 C292.5,712.9 282.3,708.3 278.0,705.3 C273.7,702.3 268.0,695.3 265.0,692.0 C262.0,688.7 258.0,684.6 255.5,680.8 C253.0,677.0 248.0,668.1 246.0,663.8 C244.0,659.5 240.9,652.0 240.4,648.7 C239.9,645.4 241.8,641.7 242.3,639.2 C242.8,636.7 244.5,633.3 244.2,629.8 C243.9,626.3 241.5,614.9 240.4,612.8 C239.3,610.7 238.5,613.3 236.0,614.0 C233.5,614.7 226.3,617.7 222.0,618.0 C217.7,618.3 208.0,616.8 204.0,616.0 C200.0,615.2 194.0,614.1 192.0,612.0 C190.0,609.9 189.0,603.2 189.0,600.0 C189.0,596.8 190.5,591.2 192.0,588.0 C193.5,584.8 198.1,579.7 200.0,576.0 C201.9,572.3 206.0,566.1 206.4,560.0 C206.8,553.9 203.5,536.7 203.0,530.0 C202.5,523.3 202.1,515.3 203.0,510.0 C203.9,504.7 209.7,494.3 210.0,490.0 C210.3,485.7 206.9,480.5 205.0,478.0 C203.1,475.5 199.1,472.7 196.0,471.0 C192.9,469.3 185.7,466.9 182.0,465.0 C178.3,463.1 172.3,459.3 168.0,457.0 C163.7,454.7 153.5,449.9 150.0,448.0 C146.5,446.1 144.4,446.1 142.0,443.0 C139.6,439.9 134.8,430.3 132.0,425.0 C129.2,419.7 123.0,409.3 121.0,403.0 C119.0,396.7 117.1,384.0 117.0,378.0 C116.9,372.0 119.1,362.7 120.0,358.0 C120.9,353.3 122.5,345.4 124.0,343.0Z" fill="none" stroke="#72a7d6" stroke-width="26" filter="url(#blur4)"/>
<path d="M124.0,343.0 C125.5,340.6 129.5,338.8 131.0,340.0 C132.5,341.2 134.2,347.7 135.0,352.0 C135.8,356.3 136.3,366.9 137.0,372.0 C137.7,377.1 138.7,386.5 140.0,390.0 C141.3,393.5 144.3,395.3 147.0,398.0 C149.7,400.7 156.8,406.9 160.0,410.0 C163.2,413.1 167.3,419.1 171.0,421.0 C174.7,422.9 182.5,422.8 188.0,424.0 C193.5,425.2 205.5,427.5 212.0,430.0 C218.5,432.5 231.9,440.1 237.0,443.0 C242.1,445.9 247.2,449.9 250.0,452.0 C252.8,454.1 255.7,459.1 258.0,459.0 C260.3,458.9 263.4,452.3 267.0,451.0 C270.6,449.7 280.1,449.4 285.0,449.0 C289.9,448.6 299.3,447.9 303.4,447.7 C307.5,447.5 313.7,448.6 315.5,447.7 C317.3,446.8 315.7,442.0 317.0,441.0 C318.3,440.0 322.8,441.1 325.0,440.0 C327.2,438.9 330.8,433.8 333.6,432.6 C336.4,431.4 343.8,431.8 345.7,431.1 C347.6,430.4 347.5,430.0 347.5,427.5 C347.5,425.0 345.3,416.5 345.8,412.2 C346.3,407.9 349.6,399.1 351.0,395.3 C352.4,391.5 353.7,386.3 356.0,383.4 C358.3,380.5 364.7,375.9 367.9,373.2 C371.1,370.5 378.2,366.6 379.8,363.0 C381.4,359.4 380.3,350.7 379.8,346.0 C379.3,341.3 375.7,331.5 376.4,327.4 C377.1,323.3 382.4,318.8 384.9,315.5 C387.4,312.2 390.9,305.4 395.0,303.0 C399.1,300.6 409.8,298.9 415.5,297.7 C421.2,296.5 432.5,294.8 438.0,294.0 C443.5,293.2 450.9,292.8 457.0,292.0 C463.1,291.2 476.4,288.8 483.4,288.3 C490.4,287.8 503.8,287.3 509.8,288.3 C515.8,289.3 523.7,293.0 528.7,295.8 C533.7,298.6 543.3,305.9 547.5,309.0 C551.7,312.1 555.8,317.2 560.0,318.7 C564.2,320.2 573.9,320.7 578.9,320.6 C583.9,320.5 594.2,319.1 597.7,317.7 C601.2,316.3 603.5,311.5 605.3,310.2 C607.1,308.9 609.7,307.3 611.0,308.3 C612.3,309.3 613.4,314.2 614.7,317.7 C616.0,321.2 618.6,332.2 620.4,334.7 C622.2,337.2 625.7,337.0 628.0,336.6 C630.3,336.2 633.9,332.2 637.4,331.9 C640.9,331.6 649.5,333.6 654.3,334.7 C659.1,335.8 668.2,338.6 673.2,340.4 C678.2,342.2 687.5,346.7 692.0,348.0 C696.5,349.3 703.7,348.8 707.2,349.8 C710.7,350.8 716.2,353.5 718.5,355.5 C720.8,357.5 723.4,361.9 724.2,364.9 C725.0,367.9 724.5,374.3 724.2,378.1 C723.9,381.9 722.1,388.7 722.3,393.2 C722.5,397.7 724.7,407.0 726.0,412.0 C727.3,417.0 730.2,426.5 731.7,431.0 C733.2,435.5 736.4,443.3 737.4,446.0 C738.4,448.7 739.7,449.4 739.2,451.0 C738.7,452.6 734.8,455.5 734.0,458.0 C733.2,460.5 734.0,467.1 733.5,470.0 C733.0,472.9 730.7,477.4 730.0,480.0 C729.3,482.6 727.5,487.3 728.3,489.8 C729.1,492.3 733.2,497.1 735.8,498.9 C738.4,500.7 745.8,501.8 748.0,503.4 C750.2,505.0 750.9,509.4 752.5,511.0 C754.1,512.6 757.9,513.2 760.0,515.5 C762.1,517.8 766.0,524.7 768.0,528.0 C770.0,531.3 773.6,533.9 775.0,540.0 C776.4,546.1 777.5,562.6 778.3,573.6 C779.1,584.6 781.5,612.8 780.8,622.6 C780.1,632.4 776.0,638.8 773.4,647.0 C770.8,655.2 764.6,676.5 761.0,684.0 C757.4,691.5 751.0,698.0 746.4,703.6 C741.8,709.2 730.1,721.1 726.8,725.7 C723.5,730.3 723.3,734.8 722.0,738.0 C720.7,741.2 719.4,744.3 716.7,750.0 C714.0,755.7 706.3,773.9 701.6,781.0 C696.9,788.1 689.6,797.8 681.5,803.5 C673.4,809.2 651.4,820.9 641.0,823.6 C630.6,826.3 611.8,821.9 603.5,823.6 C595.2,825.3 586.1,834.7 578.4,836.0 C570.7,837.3 552.4,835.4 545.7,833.7 C539.0,832.0 534.0,824.6 528.0,823.6 C522.0,822.6 506.1,827.3 500.4,826.0 C494.7,824.7 487.0,818.3 485.3,813.6 C483.6,808.9 485.8,796.7 487.8,791.0 C489.8,785.3 498.1,775.8 500.4,770.8 C502.7,765.8 505.7,757.9 505.4,753.2 C505.1,748.5 499.7,738.2 497.9,735.6 C496.1,733.0 494.5,733.8 492.0,734.0 C489.5,734.2 485.8,736.5 479.0,737.0 C472.2,737.5 450.3,739.1 441.0,738.0 C431.7,736.9 417.0,730.7 409.0,729.0 C401.0,727.3 386.4,725.9 381.0,725.0 C375.6,724.1 372.1,722.4 368.7,722.3 C365.3,722.2 359.3,723.7 355.5,724.2 C351.7,724.7 344.2,726.0 340.4,726.0 C336.6,726.0 330.8,725.2 327.0,724.2 C323.2,723.2 316.0,719.8 312.0,718.5 C308.0,717.2 301.5,716.5 297.0,714.7 C292.5,712.9 282.3,708.3 278.0,705.3 C273.7,702.3 268.0,695.3 265.0,692.0 C262.0,688.7 258.0,684.6 255.5,680.8 C253.0,677.0 248.0,668.1 246.0,663.8 C244.0,659.5 240.9,652.0 240.4,648.7 C239.9,645.4 241.8,641.7 242.3,639.2 C242.8,636.7 244.5,633.3 244.2,629.8 C243.9,626.3 241.5,614.9 240.4,612.8 C239.3,610.7 238.5,613.3 236.0,614.0 C233.5,614.7 226.3,617.7 222.0,618.0 C217.7,618.3 208.0,616.8 204.0,616.0 C200.0,615.2 194.0,614.1 192.0,612.0 C190.0,609.9 189.0,603.2 189.0,600.0 C189.0,596.8 190.5,591.2 192.0,588.0 C193.5,584.8 198.1,579.7 200.0,576.0 C201.9,572.3 206.0,566.1 206.4,560.0 C206.8,553.9 203.5,536.7 203.0,530.0 C202.5,523.3 202.1,515.3 203.0,510.0 C203.9,504.7 209.7,494.3 210.0,490.0 C210.3,485.7 206.9,480.5 205.0,478.0 C203.1,475.5 199.1,472.7 196.0,471.0 C192.9,469.3 185.7,466.9 182.0,465.0 C178.3,463.1 172.3,459.3 168.0,457.0 C163.7,454.7 153.5,449.9 150.0,448.0 C146.5,446.1 144.4,446.1 142.0,443.0 C139.6,439.9 134.8,430.3 132.0,425.0 C129.2,419.7 123.0,409.3 121.0,403.0 C119.0,396.7 117.1,384.0 117.0,378.0 C116.9,372.0 119.1,362.7 120.0,358.0 C120.9,353.3 122.5,345.4 124.0,343.0Z" fill="none" stroke="#2f57a8" stroke-width="11" filter="url(#blur2)"/>
<path d="M206.0,560.0 C205.0,565.1 201.4,573.0 200.0,576.0 C198.6,579.0 192.8,586.6 192.0,590.0 C191.2,593.4 189.0,607.2 192.0,610.0 C195.0,612.8 217.4,617.4 222.0,618.0 C226.6,618.6 235.8,614.8 238.0,616.0 C240.2,617.2 243.8,626.6 244.0,630.0 C244.2,633.4 239.8,646.6 240.0,650.0 C240.2,653.4 244.4,660.9 246.0,664.0 C247.6,667.1 254.0,678.1 256.0,681.0 C258.0,683.9 263.7,690.5 266.0,693.0 C268.3,695.5 275.8,703.8 279.0,706.0 C282.2,708.2 292.9,713.1 298.0,715.0 C303.1,716.9 323.8,724.1 330.0,725.0 C336.2,725.9 357.8,726.0 360.0,724.0 C362.2,722.0 354.5,708.4 352.0,705.0 C349.5,701.6 339.0,693.0 335.0,690.0 C331.0,687.0 316.5,678.0 312.0,675.0 C307.5,672.0 294.2,663.5 290.0,660.0 C285.8,656.5 273.5,644.5 270.0,640.0 C266.5,635.5 257.5,620.0 255.0,615.0 C252.5,610.0 246.7,595.0 245.0,590.0 C243.3,585.0 239.3,569.5 238.0,565.0 C236.7,560.5 233.6,548.5 232.0,545.0 C230.4,541.5 224.2,532.0 222.0,530.0 C219.8,528.0 211.6,522.0 210.0,525.0 C208.4,528.0 207.0,554.9 206.0,560.0Z" fill="#5a90c9" opacity="0.8" filter="url(#blur6)"/>
<path d="M356.0,385.0 C357.8,382.2 365.6,374.3 368.0,372.0 C370.4,369.7 378.0,364.2 380.0,362.0 C382.0,359.8 386.8,351.4 388.0,350.0 C389.2,348.6 392.1,331.4 392.5,348.0 C392.9,364.6 393.8,499.6 392.5,516.0 C391.2,532.4 382.2,513.1 380.0,512.0 C377.8,510.9 371.4,507.7 370.0,505.0 C368.6,502.3 366.2,490.0 366.0,485.0 C365.8,480.0 367.3,459.4 368.0,455.0 C368.7,450.6 373.6,443.4 373.0,441.0 C372.4,438.6 364.1,432.9 362.0,431.0 C359.9,429.1 353.2,425.1 352.0,422.0 C350.8,418.9 349.6,403.7 350.0,400.0 C350.4,396.3 354.2,387.8 356.0,385.0Z" fill="#5589c6" opacity="0.85" filter="url(#blur4)"/>
<path d="M421.0,320.4 C423.8,318.5 442.4,312.3 447.5,311.0 C452.6,309.7 467.6,307.2 472.0,307.0 C476.4,306.8 487.2,308.2 491.0,309.0 C494.8,309.8 506.0,313.4 509.8,314.7 C513.6,316.0 524.9,320.8 528.7,322.3 C532.5,323.8 543.7,327.9 547.5,329.8 C551.3,331.7 563.1,339.1 566.4,341.0 C569.6,342.9 578.6,347.6 580.0,348.7 C581.4,349.8 582.0,352.3 580.0,352.0 C578.0,351.7 563.2,346.5 560.0,346.0 C556.8,345.5 550.6,347.1 547.5,346.8 C544.4,346.5 534.4,343.9 528.7,343.0 C523.1,342.1 498.6,338.1 491.0,337.4 C483.4,336.6 459.6,335.7 453.0,335.5 C446.4,335.3 428.3,336.1 425.0,335.5 C421.7,334.9 420.4,331.5 420.0,330.0 C419.6,328.5 418.2,322.3 421.0,320.4Z" fill="#fde4b0" stroke="#fde4b0" stroke-width="16" stroke-linejoin="round" filter="url(#blur4)"/>
<path d="M560.0,340.0 C564.7,339.7 600.4,341.4 607.0,343.0 C613.6,344.6 621.3,353.5 626.0,355.5 C630.7,357.5 649.2,361.1 654.3,363.0 C659.4,364.9 673.2,372.0 677.0,374.3 C680.8,376.6 689.7,383.1 692.0,385.7 C694.3,388.3 698.5,397.8 699.6,400.8 C700.7,403.8 703.2,412.8 703.4,415.8 C703.6,418.8 702.6,428.7 701.5,431.0 C700.4,433.3 693.3,438.5 692.0,438.5 C690.7,438.5 688.5,432.5 688.3,431.0 C688.1,429.5 690.4,425.7 690.2,423.4 C690.0,421.1 687.7,411.3 686.4,408.3 C685.1,405.3 679.3,395.6 677.0,393.2 C674.7,390.8 667.0,386.1 663.8,383.8 C660.6,381.5 648.8,373.1 645.0,370.6 C641.2,368.1 630.7,360.9 626.0,359.2 C621.3,357.5 602.3,354.4 597.7,353.6 C593.1,352.8 583.8,351.8 580.0,351.0 C576.2,350.2 562.0,347.1 560.0,346.0 C558.0,344.9 555.3,340.3 560.0,340.0Z" fill="#eef6ea" stroke="#eef6ea" stroke-width="16" stroke-linejoin="round" filter="url(#blur4)"/>
<path d="M627.2,477.7 C629.0,479.1 638.2,495.1 642.3,497.4 C646.4,499.7 663.2,499.7 668.0,500.4 C672.8,501.1 686.3,502.9 690.6,504.0 C694.9,505.1 707.7,509.0 711.0,511.0 C714.3,513.0 721.7,520.3 724.0,524.0 C726.3,527.7 732.5,543.2 734.0,548.0 C735.5,552.8 738.2,567.0 739.0,572.0 C739.8,577.0 741.9,592.9 742.0,598.0 C742.1,603.1 741.2,617.7 740.0,622.6 C738.8,627.5 732.6,642.1 730.0,647.0 C727.4,651.9 716.9,666.8 714.0,671.7 C711.1,676.6 703.7,691.3 701.0,696.2 C698.3,701.1 689.8,715.5 687.0,720.7 C684.2,725.9 675.3,743.4 673.0,748.0 C670.7,752.6 667.2,763.6 664.0,767.0 C660.8,770.4 646.1,779.4 641.3,782.0 C636.5,784.6 621.0,791.4 616.0,793.0 C611.0,794.6 596.0,798.0 591.0,798.0 C586.0,798.0 570.3,794.7 565.8,793.0 C561.3,791.3 549.5,783.6 545.7,780.9 C541.9,778.2 531.0,769.8 528.0,765.8 C525.0,761.8 517.3,745.6 515.5,740.6 C513.7,735.6 511.4,720.6 510.4,715.5 C509.3,710.4 505.0,693.0 505.0,690.0 C505.0,687.0 508.2,682.4 510.0,685.0 C511.8,687.6 520.2,709.2 523.0,716.0 C525.8,722.8 534.7,747.3 538.0,753.0 C541.3,758.7 550.7,769.7 556.0,773.0 C561.3,776.3 585.0,785.0 591.0,786.0 C597.0,787.0 611.5,785.0 616.0,783.0 C620.5,781.0 632.0,770.2 636.0,766.0 C640.0,761.8 652.2,746.3 656.0,741.0 C659.8,735.7 671.2,718.7 674.0,713.0 C676.8,707.3 681.7,690.6 684.0,684.0 C686.3,677.4 694.4,653.4 697.0,647.0 C699.6,640.6 708.2,624.7 710.0,620.0 C711.8,615.3 714.5,603.5 714.7,600.0 C714.9,596.5 712.9,588.3 711.7,585.0 C710.5,581.7 704.7,570.7 702.6,566.8 C700.5,562.9 692.9,548.7 690.6,545.7 C688.3,542.7 682.4,538.4 680.0,536.6 C677.6,534.8 669.4,529.3 666.4,527.5 C663.4,525.7 652.5,520.3 649.8,518.5 C647.1,516.7 641.3,511.5 639.2,509.4 C637.1,507.3 630.2,500.0 628.7,497.4 C627.2,494.8 624.4,485.8 624.2,483.8 C624.1,481.8 625.4,476.3 627.2,477.7Z" fill="#e9f5f1" stroke="#e9f5f1" stroke-width="16" stroke-linejoin="round" filter="url(#blur4)"/>
<path d="M420.0,598.0 C425.1,597.1 462.0,592.8 469.0,597.0 C476.0,601.2 486.4,632.9 490.0,640.0 C493.6,647.1 504.5,664.8 505.0,668.0 C505.5,671.2 497.7,673.6 495.0,672.0 C492.3,670.4 482.0,656.0 478.0,652.0 C474.0,648.0 459.8,635.7 455.0,632.0 C450.2,628.3 433.7,617.6 430.0,615.0 C426.3,612.4 419.0,607.7 418.0,606.0 C417.0,604.3 414.9,598.9 420.0,598.0Z" fill="#e8f4ee" stroke="#e8f4ee" stroke-width="16" stroke-linejoin="round" filter="url(#blur4)"/>
<path d="M278.0,662.0 C278.8,657.6 294.2,655.4 298.0,658.0 C301.8,660.6 314.6,683.2 316.0,688.0 C317.4,692.8 314.6,704.6 312.0,706.0 C309.4,707.4 293.4,706.4 290.0,702.0 C286.6,697.6 277.2,666.4 278.0,662.0Z" fill="#d4ebf0" stroke="#d4ebf0" stroke-width="16" stroke-linejoin="round" filter="url(#blur4)"/>
<path d="M421.0,320.4 C423.8,318.5 442.4,312.3 447.5,311.0 C452.6,309.7 467.6,307.2 472.0,307.0 C476.4,306.8 487.2,308.2 491.0,309.0 C494.8,309.8 506.0,313.4 509.8,314.7 C513.6,316.0 524.9,320.8 528.7,322.3 C532.5,323.8 543.7,327.9 547.5,329.8 C551.3,331.7 563.1,339.1 566.4,341.0 C569.6,342.9 578.6,347.6 580.0,348.7 C581.4,349.8 582.0,352.3 580.0,352.0 C578.0,351.7 563.2,346.5 560.0,346.0 C556.8,345.5 550.6,347.1 547.5,346.8 C544.4,346.5 534.4,343.9 528.7,343.0 C523.1,342.1 498.6,338.1 491.0,337.4 C483.4,336.6 459.6,335.7 453.0,335.5 C446.4,335.3 428.3,336.1 425.0,335.5 C421.7,334.9 420.4,331.5 420.0,330.0 C419.6,328.5 418.2,322.3 421.0,320.4Z" fill="#f9c27c" filter="url(#blur2)"/>
<path d="M560.0,340.0 C564.7,339.7 600.4,341.4 607.0,343.0 C613.6,344.6 621.3,353.5 626.0,355.5 C630.7,357.5 649.2,361.1 654.3,363.0 C659.4,364.9 673.2,372.0 677.0,374.3 C680.8,376.6 689.7,383.1 692.0,385.7 C694.3,388.3 698.5,397.8 699.6,400.8 C700.7,403.8 703.2,412.8 703.4,415.8 C703.6,418.8 702.6,428.7 701.5,431.0 C700.4,433.3 693.3,438.5 692.0,438.5 C690.7,438.5 688.5,432.5 688.3,431.0 C688.1,429.5 690.4,425.7 690.2,423.4 C690.0,421.1 687.7,411.3 686.4,408.3 C685.1,405.3 679.3,395.6 677.0,393.2 C674.7,390.8 667.0,386.1 663.8,383.8 C660.6,381.5 648.8,373.1 645.0,370.6 C641.2,368.1 630.7,360.9 626.0,359.2 C621.3,357.5 602.3,354.4 597.7,353.6 C593.1,352.8 583.8,351.8 580.0,351.0 C576.2,350.2 562.0,347.1 560.0,346.0 C558.0,344.9 555.3,340.3 560.0,340.0Z" fill="#fcebb2" filter="url(#blur2)"/>
<path d="M627.2,477.7 C629.0,479.1 638.2,495.1 642.3,497.4 C646.4,499.7 663.2,499.7 668.0,500.4 C672.8,501.1 686.3,502.9 690.6,504.0 C694.9,505.1 707.7,509.0 711.0,511.0 C714.3,513.0 721.7,520.3 724.0,524.0 C726.3,527.7 732.5,543.2 734.0,548.0 C735.5,552.8 738.2,567.0 739.0,572.0 C739.8,577.0 741.9,592.9 742.0,598.0 C742.1,603.1 741.2,617.7 740.0,622.6 C738.8,627.5 732.6,642.1 730.0,647.0 C727.4,651.9 716.9,666.8 714.0,671.7 C711.1,676.6 703.7,691.3 701.0,696.2 C698.3,701.1 689.8,715.5 687.0,720.7 C684.2,725.9 675.3,743.4 673.0,748.0 C670.7,752.6 667.2,763.6 664.0,767.0 C660.8,770.4 646.1,779.4 641.3,782.0 C636.5,784.6 621.0,791.4 616.0,793.0 C611.0,794.6 596.0,798.0 591.0,798.0 C586.0,798.0 570.3,794.7 565.8,793.0 C561.3,791.3 549.5,783.6 545.7,780.9 C541.9,778.2 531.0,769.8 528.0,765.8 C525.0,761.8 517.3,745.6 515.5,740.6 C513.7,735.6 511.4,720.6 510.4,715.5 C509.3,710.4 505.0,693.0 505.0,690.0 C505.0,687.0 508.2,682.4 510.0,685.0 C511.8,687.6 520.2,709.2 523.0,716.0 C525.8,722.8 534.7,747.3 538.0,753.0 C541.3,758.7 550.7,769.7 556.0,773.0 C561.3,776.3 585.0,785.0 591.0,786.0 C597.0,787.0 611.5,785.0 616.0,783.0 C620.5,781.0 632.0,770.2 636.0,766.0 C640.0,761.8 652.2,746.3 656.0,741.0 C659.8,735.7 671.2,718.7 674.0,713.0 C676.8,707.3 681.7,690.6 684.0,684.0 C686.3,677.4 694.4,653.4 697.0,647.0 C699.6,640.6 708.2,624.7 710.0,620.0 C711.8,615.3 714.5,603.5 714.7,600.0 C714.9,596.5 712.9,588.3 711.7,585.0 C710.5,581.7 704.7,570.7 702.6,566.8 C700.5,562.9 692.9,548.7 690.6,545.7 C688.3,542.7 682.4,538.4 680.0,536.6 C677.6,534.8 669.4,529.3 666.4,527.5 C663.4,525.7 652.5,520.3 649.8,518.5 C647.1,516.7 641.3,511.5 639.2,509.4 C637.1,507.3 630.2,500.0 628.7,497.4 C627.2,494.8 624.4,485.8 624.2,483.8 C624.1,481.8 625.4,476.3 627.2,477.7Z" fill="#fde5a4" filter="url(#blur2)"/>
<path d="M650.0,518.0 C651.1,519.9 663.0,525.2 666.0,527.0 C669.0,528.8 677.6,534.2 680.0,536.0 C682.4,537.8 687.8,542.0 690.0,545.0 C692.2,548.0 699.9,562.0 702.0,566.0 C704.1,570.0 709.8,581.6 711.0,585.0 C712.2,588.4 712.9,598.7 714.0,600.0 C715.1,601.3 721.4,600.0 722.0,598.0 C722.6,596.0 721.0,583.8 720.0,580.0 C719.0,576.2 714.0,564.0 712.0,560.0 C710.0,556.0 702.6,543.4 700.0,540.0 C697.4,536.6 689.0,528.6 686.0,526.0 C683.0,523.4 673.1,515.8 670.0,514.0 C666.9,512.2 657.0,507.6 655.0,508.0 C653.0,508.4 648.9,516.1 650.0,518.0Z" fill="#f8bb6e" filter="url(#blur2)"/>
<path d="M420.0,598.0 C425.1,597.1 462.0,592.8 469.0,597.0 C476.0,601.2 486.4,632.9 490.0,640.0 C493.6,647.1 504.5,664.8 505.0,668.0 C505.5,671.2 497.7,673.6 495.0,672.0 C492.3,670.4 482.0,656.0 478.0,652.0 C474.0,648.0 459.8,635.7 455.0,632.0 C450.2,628.3 433.7,617.6 430.0,615.0 C426.3,612.4 419.0,607.7 418.0,606.0 C417.0,604.3 414.9,598.9 420.0,598.0Z" fill="#fcdf9a" filter="url(#blur2)"/>
<path d="M278.0,662.0 C278.8,657.6 294.2,655.4 298.0,658.0 C301.8,660.6 314.6,683.2 316.0,688.0 C317.4,692.8 314.6,704.6 312.0,706.0 C309.4,707.4 293.4,706.4 290.0,702.0 C286.6,697.6 277.2,666.4 278.0,662.0Z" fill="#f2f0cc" filter="url(#blur2)"/>
<path d="M445.3,410.8 L445.3,160.8 M446.6,410.8 L448.8,160.8 M447.9,410.8 L452.3,160.9 M449.2,410.9 L455.8,160.9 M450.5,410.9 L459.3,161.0 M451.8,410.9 L462.7,161.2 M453.2,411.0 L466.2,161.3 M454.5,411.1 L469.7,161.5 M455.8,411.2 L473.2,161.8 M457.1,411.3 L476.7,162.0 M458.4,411.4 L480.2,162.3 M459.7,411.5 L483.6,162.6 M461.0,411.6 L487.1,163.0 M462.3,411.8 L490.6,163.4 M463.6,411.9 L494.0,163.8 M464.9,412.1 L497.5,164.2 M466.2,412.3 L501.0,164.7 M467.5,412.4 L504.4,165.2 M468.8,412.6 L507.9,165.7 M470.1,412.9 L511.3,166.3 M471.3,413.1 L514.8,166.9 M472.6,413.3 L518.2,167.5 M473.9,413.6 L521.6,168.1 M475.2,413.8 L525.0,168.8 M476.5,414.1 L528.5,169.5 M477.8,414.4 L531.9,170.3 M479.0,414.6 L535.3,171.1 M480.3,414.9 L538.7,171.9 M481.6,415.3 L542.1,172.7 M482.9,415.6 L545.5,173.5 M484.1,415.9 L548.8,174.4 M485.4,416.3 L552.2,175.3 M486.6,416.6 L555.6,176.3 M487.9,417.0 L558.9,177.3 M489.2,417.4 L562.2,178.3 M490.4,417.7 L565.6,179.3 M491.7,418.1 L568.9,180.4 M492.9,418.6 L572.2,181.5 M494.1,419.0 L575.5,182.6 M495.4,419.4 L578.8,183.7 M496.6,419.8 L582.1,184.9 M497.8,420.3 L585.4,186.1 M499.1,420.8 L588.6,187.4 M500.3,421.2 L591.9,188.6 M501.5,421.7 L595.1,189.9 M502.7,422.2 L598.4,191.2 M503.9,422.7 L601.6,192.6 M505.1,423.2 L604.8,194.0 M506.3,423.8 L608.0,195.4 M507.5,424.3 L611.2,196.8 M508.7,424.9 L614.3,198.3 M509.9,425.4 L617.5,199.8 M511.1,426.0 L620.6,201.3 M512.2,426.6 L623.8,202.8 M513.4,427.1 L626.9,204.4 M514.6,427.7 L630.0,206.0 M515.7,428.4 L633.1,207.6 M516.9,429.0 L636.2,209.3 M518.0,429.6 L639.2,211.0 M519.2,430.2 L642.3,212.7 M520.3,430.9 L645.3,214.4 M521.4,431.6 L648.3,216.1 M522.6,432.2 L651.3,217.9 M523.7,432.9 L654.3,219.7 M524.8,433.6 L657.3,221.6 M525.9,434.3 L660.2,223.4 M527.0,435.0 L663.2,225.3 M528.1,435.7 L666.1,227.2 M529.2,436.4 L669.0,229.2 M530.3,437.2 L671.9,231.1 M531.3,437.9 L674.7,233.1 M532.4,438.7 L677.6,235.2 M533.5,439.4 L680.4,237.2 M534.5,440.2 L683.2,239.3 M535.6,441.0 L686.0,241.3 M536.6,441.8 L688.8,243.5 M537.6,442.6 L691.6,245.6 M538.7,443.4 L694.3,247.8 M539.7,444.2 L697.0,249.9 M540.7,445.1 L699.7,252.2 M541.7,445.9 L702.4,254.4 M542.7,446.7 L705.1,256.6 M543.7,447.6 L707.7,258.9 M544.7,448.5 L710.3,261.2 M545.7,449.3 L713.0,263.5 M546.6,450.2 L715.5,265.9 M547.6,451.1 L718.1,268.3 M548.6,452.0 L720.6,270.7 M549.5,452.9 L723.2,273.1 M550.4,453.8 L725.7,275.5 M551.4,454.7 L728.1,278.0 M552.3,455.7 L730.6,280.4 M553.2,456.6 L733.0,282.9 M554.1,457.5 L735.4,285.5 M555.0,458.5 L737.8,288.0 M555.9,459.5 L740.2,290.6 M556.8,460.4 L742.6,293.1 M557.6,461.4 L744.9,295.8 M558.5,462.4 L747.2,298.4 M559.4,463.4 L749.5,301.0 M560.2,464.4 L751.7,303.7 M561.0,465.4 L753.9,306.4 M561.9,466.4 L756.2,309.1 M562.7,467.4 L758.3,311.8 M563.5,468.5 L760.5,314.5 M564.3,469.5 L762.6,317.3 M565.1,470.5 L764.8,320.1 M565.9,471.6 L766.8,322.9 M566.7,472.6 L768.9,325.7 M567.4,473.7 L770.9,328.5 M568.2,474.8 L773.0,331.4 M568.9,475.8 L775.0,334.2 M569.7,476.9 L776.9,337.1 M570.4,478.0 L778.9,340.0 M571.1,479.1 L780.8,342.9 M571.8,480.2 L782.7,345.9 M572.5,481.3 L784.5,348.8 M573.2,482.4 L786.4,351.8 M573.9,483.5 L788.2,354.8 M574.5,484.7 L790.0,357.8 M575.2,485.8 L791.7,360.8 M575.9,486.9 L793.4,363.8 M576.5,488.1 L795.1,366.9 M577.1,489.2 L796.8,369.9 M577.7,490.4 L798.5,373.0 M578.4,491.5 L800.1,376.1 M579.0,492.7 L801.7,379.2 M579.5,493.9 L803.3,382.3 M580.1,495.0 L804.8,385.5 M580.7,496.2 L806.3,388.6 M581.2,497.4 L807.8,391.8 M581.8,498.6 L809.3,394.9 M582.3,499.8 L810.7,398.1 M582.9,501.0 L812.1,401.3 M583.4,502.2 L813.5,404.5 M583.9,503.4 L814.9,407.7 M584.4,504.6 L816.2,411.0 M584.9,505.8 L817.5,414.2 M585.3,507.0 L818.7,417.5 M585.8,508.3 L820.0,420.7 M586.3,509.5 L821.2,424.0 M586.7,510.7 L822.4,427.3 M587.1,512.0 L823.5,430.6 M587.5,513.2 L824.6,433.9 M588.0,514.4 L825.7,437.2 M588.4,515.7 L826.8,440.5 M588.7,516.9 L827.8,443.9 M589.1,518.2 L828.8,447.2 M589.5,519.5 L829.8,450.5 M589.8,520.7 L830.8,453.9 M590.2,522.0 L831.7,457.3 M590.5,523.2 L832.6,460.6 M590.8,524.5 L833.4,464.0 M591.2,525.8 L834.2,467.4 M591.5,527.1 L835.0,470.8 M591.7,528.3 L835.8,474.2 M592.0,529.6 L836.6,477.6 M592.3,530.9 L837.3,481.1 M592.5,532.2 L838.0,484.5 M592.8,533.5 L838.6,487.9 M593.0,534.8 L839.2,491.3 M593.2,536.0 L839.8,494.8 M593.5,537.3 L840.4,498.2 M593.7,538.6 L840.9,501.7 M593.8,539.9 L841.4,505.1 M594.0,541.2 L841.9,508.6 M594.2,542.5 L842.3,512.1 M594.3,543.8 L842.7,515.5 M594.5,545.1 L843.1,519.0 M594.6,546.4 L843.5,522.5 M594.7,547.7 L843.8,525.9 M594.8,549.0 L844.1,529.4 M594.9,550.3 L844.3,532.9 M595.0,551.6 L844.6,536.4 M595.1,552.9 L844.8,539.9 M595.2,554.3 L844.9,543.4 M595.2,555.6 L845.1,546.8 M595.2,556.9 L845.2,550.3 M595.3,558.2 L845.2,553.8 M595.3,559.5 L845.3,557.3 M595.3,560.8 L845.3,560.8 M595.3,562.1 L845.3,564.3 M595.3,563.4 L845.2,567.8 M595.2,564.7 L845.2,571.3 M595.2,566.0 L845.1,574.8 M595.2,567.3 L844.9,578.2 M595.1,568.7 L844.8,581.7 M595.0,570.0 L844.6,585.2 M594.9,571.3 L844.3,588.7 M594.8,572.6 L844.1,592.2 M594.7,573.9 L843.8,595.7 M594.6,575.2 L843.5,599.1 M594.5,576.5 L843.1,602.6 M594.3,577.8 L842.7,606.1 M594.2,579.1 L842.3,609.5 M594.0,580.4 L841.9,613.0 M593.8,581.7 L841.4,616.5 M593.7,583.0 L840.9,619.9 M593.5,584.3 L840.4,623.4 M593.2,585.6 L839.8,626.8 M593.0,586.8 L839.2,630.3 M592.8,588.1 L838.6,633.7 M592.5,589.4 L838.0,637.1 M592.3,590.7 L837.3,640.5 M592.0,592.0 L836.6,644.0 M591.7,593.3 L835.8,647.4 M591.5,594.5 L835.0,650.8 M591.2,595.8 L834.2,654.2 M590.8,597.1 L833.4,657.6 M590.5,598.4 L832.6,661.0 M590.2,599.6 L831.7,664.3 M589.8,600.9 L830.8,667.7 M589.5,602.1 L829.8,671.1 M589.1,603.4 L828.8,674.4 M588.7,604.7 L827.8,677.7 M588.4,605.9 L826.8,681.1 M588.0,607.2 L825.7,684.4 M587.5,608.4 L824.6,687.7 M587.1,609.6 L823.5,691.0 M586.7,610.9 L822.4,694.3 M586.3,612.1 L821.2,697.6 M585.8,613.3 L820.0,700.9 M585.3,614.6 L818.7,704.1 M584.9,615.8 L817.5,707.4 M584.4,617.0 L816.2,710.6 M583.9,618.2 L814.9,713.9 M583.4,619.4 L813.5,717.1 M582.9,620.6 L812.1,720.3 M582.3,621.8 L810.7,723.5 M581.8,623.0 L809.3,726.7 M581.2,624.2 L807.8,729.8 M580.7,625.4 L806.3,733.0 M580.1,626.6 L804.8,736.1 M579.5,627.7 L803.3,739.3 M579.0,628.9 L801.7,742.4 M578.4,630.1 L800.1,745.5 M577.7,631.2 L798.5,748.6 M577.1,632.4 L796.8,751.7 M576.5,633.5 L795.1,754.7 M575.9,634.7 L793.4,757.8 M575.2,635.8 L791.7,760.8 M574.5,636.9 L790.0,763.8 M573.9,638.1 L788.2,766.8 M573.2,639.2 L786.4,769.8 M572.5,640.3 L784.5,772.8 M571.8,641.4 L782.7,775.7 M571.1,642.5 L780.8,778.7 M570.4,643.6 L778.9,781.6 M569.7,644.7 L776.9,784.5 M568.9,645.8 L775.0,787.4 M568.2,646.8 L773.0,790.2 M567.4,647.9 L770.9,793.1 M566.7,649.0 L768.9,795.9 M565.9,650.0 L766.8,798.7 M565.1,651.1 L764.8,801.5 M564.3,652.1 L762.6,804.3 M563.5,653.1 L760.5,807.1 M562.7,654.2 L758.3,809.8 M561.9,655.2 L756.2,812.5 M561.0,656.2 L753.9,815.2 M560.2,657.2 L751.7,817.9 M559.4,658.2 L749.5,820.6 M558.5,659.2 L747.2,823.2 M557.6,660.2 L744.9,825.8 M556.8,661.2 L742.6,828.5 M555.9,662.1 L740.2,831.0 M555.0,663.1 L737.8,833.6 M554.1,664.1 L735.4,836.1 M553.2,665.0 L733.0,838.7 M552.3,665.9 L730.6,841.2 M551.4,666.9 L728.1,843.6 M550.4,667.8 L725.7,846.1 M549.5,668.7 L723.2,848.5 M548.6,669.6 L720.6,850.9 M547.6,670.5 L718.1,853.3 M546.6,671.4 L715.5,855.7 M545.7,672.3 L713.0,858.1 M544.7,673.1 L710.3,860.4 M543.7,674.0 L707.7,862.7 M542.7,674.9 L705.1,865.0 M541.7,675.7 L702.4,867.2 M540.7,676.5 L699.7,869.4 M539.7,677.4 L697.0,871.7 M538.7,678.2 L694.3,873.8 M537.6,679.0 L691.6,876.0 M536.6,679.8 L688.8,878.1 M535.6,680.6 L686.0,880.3 M534.5,681.4 L683.2,882.3 M533.5,682.2 L680.4,884.4 M532.4,682.9 L677.6,886.4 M531.3,683.7 L674.7,888.5 M530.3,684.4 L671.9,890.5 M529.2,685.2 L669.0,892.4 M528.1,685.9 L666.1,894.4 M527.0,686.6 L663.2,896.3 M525.9,687.3 L660.2,898.2 M524.8,688.0 L657.3,900.0 M523.7,688.7 L654.3,901.9 M522.6,689.4 L651.3,903.7 M521.4,690.0 L648.3,905.5 M520.3,690.7 L645.3,907.2 M519.2,691.4 L642.3,908.9 M518.0,692.0 L639.2,910.6 M516.9,692.6 L636.2,912.3 M515.7,693.2 L633.1,914.0 M514.6,693.9 L630.0,915.6 M513.4,694.5 L626.9,917.2 M512.2,695.0 L623.8,918.8 M511.1,695.6 L620.6,920.3 M509.9,696.2 L617.5,921.8 M508.7,696.7 L614.3,923.3 M507.5,697.3 L611.2,924.8 M506.3,697.8 L608.0,926.2 M505.1,698.4 L604.8,927.6 M503.9,698.9 L601.6,929.0 M502.7,699.4 L598.4,930.4 M501.5,699.9 L595.1,931.7 M500.3,700.4 L591.9,933.0 M499.1,700.8 L588.6,934.2 M497.8,701.3 L585.4,935.5 M496.6,701.8 L582.1,936.7 M495.4,702.2 L578.8,937.9 M494.1,702.6 L575.5,939.0 M492.9,703.0 L572.2,940.1 M491.7,703.5 L568.9,941.2 M490.4,703.9 L565.6,942.3 M489.2,704.2 L562.2,943.3 M487.9,704.6 L558.9,944.3 M486.6,705.0 L555.6,945.3 M485.4,705.3 L552.2,946.3 M484.1,705.7 L548.8,947.2 M482.9,706.0 L545.5,948.1 M481.6,706.3 L542.1,948.9 M480.3,706.7 L538.7,949.7 M479.0,707.0 L535.3,950.5 M477.8,707.2 L531.9,951.3 M476.5,707.5 L528.5,952.1 M475.2,707.8 L525.0,952.8 M473.9,708.0 L521.6,953.5 M472.6,708.3 L518.2,954.1 M471.3,708.5 L514.8,954.7 M470.1,708.7 L511.3,955.3 M468.8,709.0 L507.9,955.9 M467.5,709.2 L504.4,956.4 M466.2,709.3 L501.0,956.9 M464.9,709.5 L497.5,957.4 M463.6,709.7 L494.0,957.8 M462.3,709.8 L490.6,958.2 M461.0,710.0 L487.1,958.6 M459.7,710.1 L483.6,959.0 M458.4,710.2 L480.2,959.3 M457.1,710.3 L476.7,959.6 M455.8,710.4 L473.2,959.8 M454.5,710.5 L469.7,960.1 M453.2,710.6 L466.2,960.3 M451.8,710.7 L462.7,960.4 M450.5,710.7 L459.3,960.6 M449.2,710.7 L455.8,960.7 M447.9,710.8 L452.3,960.7 M446.6,710.8 L448.8,960.8 M445.3,710.8 L445.3,960.8 M444.0,710.8 L441.8,960.8 M442.7,710.8 L438.3,960.7 M441.4,710.7 L434.8,960.7 M440.1,710.7 L431.3,960.6 M438.8,710.7 L427.9,960.4 M437.4,710.6 L424.4,960.3 M436.1,710.5 L420.9,960.1 M434.8,710.4 L417.4,959.8 M433.5,710.3 L413.9,959.6 M432.2,710.2 L410.4,959.3 M430.9,710.1 L407.0,959.0 M429.6,710.0 L403.5,958.6 M428.3,709.8 L400.0,958.2 M427.0,709.7 L396.6,957.8 M425.7,709.5 L393.1,957.4 M424.4,709.3 L389.6,956.9 M423.1,709.2 L386.2,956.4 M421.8,709.0 L382.7,955.9 M420.5,708.7 L379.3,955.3 M419.3,708.5 L375.8,954.7 M418.0,708.3 L372.4,954.1 M416.7,708.0 L369.0,953.5 M415.4,707.8 L365.6,952.8 M414.1,707.5 L362.1,952.1 M412.8,707.2 L358.7,951.3 M411.6,707.0 L355.3,950.5 M410.3,706.7 L351.9,949.7 M409.0,706.3 L348.5,948.9 M407.7,706.0 L345.1,948.1 M406.5,705.7 L341.8,947.2 M405.2,705.3 L338.4,946.3 M404.0,705.0 L335.0,945.3 M402.7,704.6 L331.7,944.3 M401.4,704.2 L328.4,943.3 M400.2,703.9 L325.0,942.3 M398.9,703.5 L321.7,941.2 M397.7,703.0 L318.4,940.1 M396.5,702.6 L315.1,939.0 M395.2,702.2 L311.8,937.9 M394.0,701.8 L308.5,936.7 M392.8,701.3 L305.2,935.5 M391.5,700.8 L302.0,934.2 M390.3,700.4 L298.7,933.0 M389.1,699.9 L295.5,931.7 M387.9,699.4 L292.2,930.4 M386.7,698.9 L289.0,929.0 M385.5,698.4 L285.8,927.6 M384.3,697.8 L282.6,926.2 M383.1,697.3 L279.4,924.8 M381.9,696.7 L276.3,923.3 M406.5,415.9 L341.8,174.4 M407.7,415.6 L345.1,173.5 M409.0,415.3 L348.5,172.7 M410.3,414.9 L351.9,171.9 M411.6,414.6 L355.3,171.1 M412.8,414.4 L358.7,170.3 M414.1,414.1 L362.1,169.5 M415.4,413.8 L365.6,168.8 M416.7,413.6 L369.0,168.1 M418.0,413.3 L372.4,167.5 M419.3,413.1 L375.8,166.9 M420.5,412.9 L379.3,166.3 M421.8,412.6 L382.7,165.7 M423.1,412.4 L386.2,165.2 M424.4,412.3 L389.6,164.7 M425.7,412.1 L393.1,164.2 M427.0,411.9 L396.6,163.8 M428.3,411.8 L400.0,163.4 M429.6,411.6 L403.5,163.0 M430.9,411.5 L407.0,162.6 M432.2,411.4 L410.4,162.3 M433.5,411.3 L413.9,162.0 M434.8,411.2 L417.4,161.8 M436.1,411.1 L420.9,161.5 M437.4,411.0 L424.4,161.3 M438.8,410.9 L427.9,161.2 M440.1,410.9 L431.3,161.0 M441.4,410.9 L434.8,160.9 M442.7,410.8 L438.3,160.9 M444.0,410.8 L441.8,160.8" stroke="#ffffff" stroke-width="1.0" stroke-dasharray="6 3" opacity="0.5" fill="none"/>
<polygon points="262.0,522.0 280.0,520.0 300.0,522.0 318.0,517.0 340.0,507.0 360.0,510.0 372.0,517.0 385.0,505.0 392.0,516.0 377.0,525.0 349.0,536.5 327.8,543.6 306.6,549.2 292.5,556.3 280.0,560.0 265.0,545.0" fill="#2e4fa3" filter="url(#blur3)"/>
<polygon points="315.5,447.7 318.5,455.3 330.6,467.4 333.6,477.9 342.6,485.5 348.7,482.5 345.7,470.4 348.7,458.3 338.1,447.7 330.6,440.2 333.6,432.6 325.0,434.0 317.0,441.0" fill="#3766b3" filter="url(#blur2)"/>
<polygon points="386.0,595.6 400.0,600.0 411.4,618.2 413.0,635.0 410.6,647.7 396.3,655.4 377.6,670.8 369.9,683.0 375.0,695.0 379.0,706.0 382.0,719.0 382.0,728.0 368.0,730.0 356.0,727.0 350.0,712.0 349.8,690.0 359.0,677.0 372.5,635.5" fill="#2b3f97" filter="url(#blur2)"/>
</g>
<path d="M118,338 L140,336 L150,395 L120,402 Z" fill="#e2edf7" opacity="0.55" filter="url(#blur2)"/>
<polygon points="146.6,396 160,398 171,410 188,424.5 176,428 160,421 150,412" fill="#e6e6e6"/>
<circle cx="165" cy="462" r="3.5" fill="#3b69b4"/>
<circle cx="172" cy="470" r="3.0" fill="#3b69b4"/>
<circle cx="178" cy="476" r="3.5" fill="#3b69b4"/>
<circle cx="186" cy="484" r="3.0" fill="#3b69b4"/>
<circle cx="170" cy="480" r="2.5" fill="#3b69b4"/>
<circle cx="194" cy="490" r="3.2" fill="#3b69b4"/>
<circle cx="182" cy="492" r="2.5" fill="#3b69b4"/>
<circle cx="176" cy="486" r="2.0" fill="#3b69b4"/>
<circle cx="190" cy="498" r="2.6" fill="#3b69b4"/>
<circle cx="160" cy="470" r="2.2" fill="#3b69b4"/>
<circle cx="168" cy="488" r="2.4" fill="#3b69b4"/>
<circle cx="199" cy="482" r="2.5" fill="#3b69b4"/>
<circle cx="188" cy="476" r="2.4" fill="#3b69b4"/>
<circle cx="126" cy="347" r="2.5" fill="#3b69b4"/>
<circle cx="130" cy="355" r="2.2" fill="#3b69b4"/>
<circle cx="124" cy="362" r="2.4" fill="#3b69b4"/>
<circle cx="133" cy="368" r="2.0" fill="#3b69b4"/>
<circle cx="127" cy="376" r="2.6" fill="#3b69b4"/>
<circle cx="131" cy="384" r="2.3" fill="#3b69b4"/>
<circle cx="125" cy="392" r="2.2" fill="#3b69b4"/>
<circle cx="137" cy="395" r="2.0" fill="#3b69b4"/>
<circle cx="120" cy="372" r="1.8" fill="#3b69b4"/>
<circle cx="116" cy="385" r="1.6" fill="#3b69b4"/>
<circle cx="135" cy="360" r="1.8" fill="#3b69b4"/>
<polygon points="392.5,347.7 406.0,339.0 425.0,335.5 453.0,335.5 491.0,337.4 528.7,343.0 547.5,346.8 560.0,346.0 580.0,351.0 597.7,353.6 626.0,359.2 645.0,370.6 663.8,383.8 677.0,393.2 686.4,408.3 690.2,423.4 688.3,431.0 673.2,436.6 654.3,444.2 641.1,451.0 637.7,449.0 630.2,470.2 624.2,483.8 628.7,497.4 639.2,509.4 649.8,518.5 666.4,527.5 680.0,536.6 690.6,545.7 702.6,566.8 711.7,585.0 714.7,600.0 710.0,620.0 697.0,647.0 684.0,684.0 674.0,713.0 656.0,741.0 636.0,766.0 616.0,783.0 591.0,786.0 556.0,773.0 538.0,753.0 523.0,716.0 510.0,685.0 490.0,640.0 469.0,597.0 387.5,594.0 372.5,635.5 359.0,677.0 349.8,682.6 331.0,665.7 312.0,654.3 300.8,639.2 285.7,616.6 266.8,578.9 268.0,572.0 278.0,566.0 292.5,556.3 306.6,549.2 327.8,543.6 349.0,536.5 370.3,529.4 377.4,525.2 385.8,519.5 391.5,516.7" fill="#bbbfc3"/>
<clipPath id="grayclip"><polygon points="392.5,347.7 406.0,339.0 425.0,335.5 453.0,335.5 491.0,337.4 528.7,343.0 547.5,346.8 560.0,346.0 580.0,351.0 597.7,353.6 626.0,359.2 645.0,370.6 663.8,383.8 677.0,393.2 686.4,408.3 690.2,423.4 688.3,431.0 673.2,436.6 654.3,444.2 641.1,451.0 637.7,449.0 630.2,470.2 624.2,483.8 628.7,497.4 639.2,509.4 649.8,518.5 666.4,527.5 680.0,536.6 690.6,545.7 702.6,566.8 711.7,585.0 714.7,600.0 710.0,620.0 697.0,647.0 684.0,684.0 674.0,713.0 656.0,741.0 636.0,766.0 616.0,783.0 591.0,786.0 556.0,773.0 538.0,753.0 523.0,716.0 510.0,685.0 490.0,640.0 469.0,597.0 387.5,594.0 372.5,635.5 359.0,677.0 349.8,682.6 331.0,665.7 312.0,654.3 300.8,639.2 285.7,616.6 266.8,578.9 268.0,572.0 278.0,566.0 292.5,556.3 306.6,549.2 327.8,543.6 349.0,536.5 370.3,529.4 377.4,525.2 385.8,519.5 391.5,516.7"/></clipPath>
<g clip-path="url(#grayclip)">
<path d="M498.0,339.0 C498.7,336.9 523.8,342.2 528.7,343.0 C533.7,343.8 544.4,346.5 547.5,346.8 C550.6,347.1 556.8,345.6 560.0,346.0 C563.2,346.4 576.2,350.2 580.0,351.0 C583.8,351.8 593.1,352.8 597.7,353.6 C602.3,354.4 621.3,357.5 626.0,359.2 C630.7,360.9 641.2,368.1 645.0,370.6 C648.8,373.1 660.6,381.5 663.8,383.8 C667.0,386.1 674.7,390.8 677.0,393.2 C679.3,395.6 685.1,405.3 686.4,408.3 C687.7,411.3 690.0,421.1 690.2,423.4 C690.4,425.7 690.0,429.7 688.3,431.0 C686.6,432.3 676.6,435.3 673.2,436.6 C669.8,437.9 657.5,442.8 654.3,444.2 C651.1,445.6 642.8,450.5 641.1,451.0 C639.4,451.5 638.8,447.1 637.7,449.0 C636.6,450.9 631.6,466.7 630.2,470.2 C628.9,473.7 624.4,481.1 624.2,483.8 C624.1,486.5 627.2,494.8 628.7,497.4 C630.2,500.0 637.1,507.3 639.2,509.4 C641.3,511.5 647.1,516.7 649.8,518.5 C652.5,520.3 663.4,525.7 666.4,527.5 C669.4,529.3 677.6,534.8 680.0,536.6 C682.4,538.4 688.3,542.7 690.6,545.7 C692.9,548.7 700.5,562.9 702.6,566.8 C704.7,570.7 711.4,582.5 711.7,585.0 C712.0,587.5 707.5,592.2 706.0,592.0 C704.5,591.8 701.6,584.2 697.0,583.0 C692.4,581.8 667.2,580.6 660.0,580.0 C652.8,579.4 631.2,578.0 624.6,577.0 C618.0,576.0 597.8,572.1 593.8,570.0 C589.8,567.9 586.3,560.5 584.7,556.4 C583.1,552.3 579.8,533.5 578.0,529.0 C576.2,524.5 569.1,515.0 566.6,511.0 C564.1,506.9 555.3,493.0 553.0,488.5 C550.7,484.0 544.5,469.9 544.0,465.8 C543.5,461.7 547.1,451.8 548.5,447.7 C549.9,443.6 557.0,429.3 557.5,425.0 C558.0,420.7 555.0,408.5 553.0,404.7 C551.0,400.9 540.2,390.7 537.0,386.6 C533.8,382.5 525.2,368.8 521.3,364.0 C517.4,359.2 497.3,341.1 498.0,339.0Z" fill="#e1e5e9" filter="url(#blur3)"/>
<path d="M606.0,590.0 C611.7,580.8 624.8,585.8 640.0,585.0 C655.2,584.2 685.3,580.8 697.0,585.0 C708.7,589.2 710.0,599.7 710.0,610.0 C710.0,620.3 701.3,634.7 697.0,647.0 C692.7,659.3 687.8,673.0 684.0,684.0 C680.2,695.0 678.0,703.7 674.0,713.0 C670.0,722.3 665.7,734.2 660.0,740.0 C654.3,745.8 646.7,751.3 640.0,748.0 C633.3,744.7 624.7,731.3 620.0,720.0 C615.3,708.7 614.3,693.3 612.0,680.0 C609.7,666.7 607.0,655.0 606.0,640.0 C605.0,625.0 600.3,599.2 606.0,590.0Z" fill="#cdd1d5" filter="url(#blur8)"/>
<path d="M290.6,556.6 C292.5,553.6 301.6,550.9 306.6,549.2 C311.6,547.5 322.1,545.3 327.8,543.6 C333.5,541.9 343.2,538.3 349.0,536.5 C354.8,534.7 366.2,529.5 371.0,530.0 C375.8,530.5 382.1,536.0 385.0,540.0 C387.9,544.0 391.5,554.0 393.0,560.0 C394.5,566.0 396.8,580.2 396.0,585.0 C395.2,589.8 390.1,589.3 387.0,596.0 C383.9,602.7 376.2,624.7 372.5,635.5 C368.8,646.3 362.0,670.7 359.0,677.0 C356.0,683.3 353.5,683.8 349.8,682.6 C346.1,681.4 335.6,672.6 331.0,668.0 C326.4,663.4 318.5,654.4 315.0,648.0 C311.5,641.6 307.3,627.5 305.0,620.0 C302.7,612.5 299.7,598.4 298.0,592.0 C296.3,585.6 293.0,576.7 292.0,572.0 C291.0,567.3 288.7,559.6 290.6,556.6Z" fill="#dfe2e6" filter="url(#blur4)"/>
<path d="M395.0,432.0 C399.0,426.4 417.0,433.9 425.0,436.0 C433.0,438.1 447.9,444.1 455.0,448.0 C462.1,451.9 473.6,459.4 478.0,465.0 C482.4,470.6 488.3,484.7 488.0,490.0 C487.7,495.3 481.7,503.9 476.0,505.0 C470.3,506.1 453.1,500.3 445.0,498.0 C436.9,495.7 421.7,490.7 415.0,488.0 C408.3,485.3 397.7,485.5 395.0,478.0 C392.3,470.5 391.0,437.6 395.0,432.0Z" fill="#cdd1d5" filter="url(#blur6)"/>
<circle cx="445.3" cy="560.8" r="26" fill="#cdd1d5" filter="url(#blur2)"/>
<rect x="260" y="320" width="470" height="480" fill="#ffffff" filter="url(#speck)" opacity="0.5"/>
</g>
<rect x="431" y="527" width="9.5" height="10" rx="2" fill="#f3df8c"/><rect x="444.6" y="526.3" width="8.3" height="8.7" fill="#f3df8c"/>
<polygon points="258.1,459.8 267.2,450.8 285.3,449.2 303.4,447.7 315.5,447.7 318.5,455.3 330.6,467.4 333.6,477.9 342.6,485.5 348.7,482.5 345.7,470.4 348.7,458.3 338.1,447.7 330.6,440.2 333.6,432.6 345.7,431.1 354.7,435.7 365.3,432.6 372.8,441.7 368.3,455.3 363.8,467.4 366.8,482.5 360.8,494.5 354.7,500.6 360.8,508.1 365.3,515.7 357.7,515.7 348.7,509.6 342.6,506.6 333.6,503.6 324.5,509.6 318.5,515.7 310.9,521.7 303.4,518.7 297.4,530.8 288.3,542.8 282.3,539.8 285.3,524.7 279.2,515.7 270.2,518.7 255.1,518.7 267.2,503.6 267.2,488.5 262.6,477.9 259.6,467.4" fill="#ebebeb" stroke="#d0d0d0" stroke-width="0.7"/>
<polygon points="369.9,683.0 377.6,670.8 396.3,655.4 410.6,647.7 413.0,635.0 416.4,620.8 422.0,625.0 429.0,635.8 437.0,640.0 441.6,641.0 459.0,656.5 475.6,670.8 486.6,684.0 492.0,689.5 494.0,706.0 486.6,717.0 478.9,728.0 476.7,734.6 470.0,735.0 448.0,730.0 426.0,723.6 404.0,717.0 393.0,716.0 382.0,719.0 379.0,706.0 375.0,695.0" fill="#ebebeb" stroke="#d0d0d0" stroke-width="0.7"/>
<polygon points="662.0,467.0 675.5,462.6 696.6,458.0 705.7,455.0 717.7,456.6 729.8,458.0 732.8,470.2 729.8,479.2 717.7,477.7 708.7,474.7 690.6,476.2 678.5,470.2 663.4,471.7" fill="#ebebeb" stroke="#d0d0d0" stroke-width="0.7"/>
<polygon points="292.5,497.0 302.0,494.0 308.0,500.0 308.0,514.0 300.0,516.0 294.0,508.0" fill="#2f4ea2" stroke="#2f4ea2" stroke-width="1.5" stroke-linejoin="round"/>
<polygon points="413.0,652.0 417.0,651.5 418.0,656.0 414.0,658.0" fill="#2f4ea2" stroke="#2f4ea2" stroke-width="1.5" stroke-linejoin="round"/>
<polygon points="404.0,672.0 410.0,671.5 412.0,677.0 406.0,679.0" fill="#2f4ea2" stroke="#2f4ea2" stroke-width="1.5" stroke-linejoin="round"/>
<polygon points="400.7,664.0 403.5,664.5 404.0,669.5 401.0,669.5" fill="#2f4ea2" stroke="#2f4ea2" stroke-width="1.5" stroke-linejoin="round"/>
<polygon points="392.0,696.0 398.0,694.0 403.0,700.0 403.0,713.0 396.0,714.0 392.0,706.0" fill="#2f4ea2" stroke="#2f4ea2" stroke-width="1.5" stroke-linejoin="round"/>
<polygon points="380.0,688.0 385.0,688.0 386.0,693.0 381.0,693.0" fill="#2f4ea2" stroke="#2f4ea2" stroke-width="1.5" stroke-linejoin="round"/>
<g stroke="#ffffff" stroke-width="1.3" stroke-dasharray="1.4 1.6" opacity="1"><line x1="445.3" y1="555.8" x2="445.3" y2="140.8"/><line x1="448.5" y1="557.0" x2="715.3" y2="239.1"/><line x1="450.2" y1="559.9" x2="858.9" y2="487.9"/><line x1="449.6" y1="563.3" x2="809.0" y2="770.8"/><line x1="447.0" y1="565.5" x2="588.9" y2="955.5"/><line x1="443.6" y1="565.5" x2="301.7" y2="955.5"/><line x1="441.0" y1="563.3" x2="81.6" y2="770.8"/><line x1="440.4" y1="559.9" x2="31.7" y2="487.9"/><line x1="442.1" y1="557.0" x2="175.3" y2="239.1"/><circle cx="445.3" cy="560.8" r="139.5" fill="none"/><circle cx="445.3" cy="560.8" r="282" fill="none"/></g>
<g fill="#808080">
<rect x="367.4" y="915.8" width="131" height="2.8"/>
<rect x="367.2" y="910.5" width="1.3" height="14"/><rect x="497.5" y="910.5" width="1.3" height="14"/>
<text x="420.8" y="907.8" font-size="13" text-anchor="middle">km</text>
<text x="427.3" y="934.5" font-size="13" text-anchor="middle">1000</text>
</g>
<text x="412.5" y="696" font-size="13" fill="#a0a0a0" text-anchor="middle">80S</text>
<text x="369" y="830" font-size="13.3" fill="#ffffff" text-anchor="middle">70S</text>
</g>
<circle cx="445.2" cy="561.2" r="389.0" fill="none" stroke="#6e8398" stroke-width="1.3"/>
<circle cx="445.2" cy="561.2" r="390.4" fill="none" stroke="#d4d4d4" stroke-width="1.6"/>
<circle cx="445.2" cy="561.2" r="391.9" fill="none" stroke="#111" stroke-width="1.1"/>
<text x="452.5" y="164.8" font-size="13.3" fill="#a8a8a8" text-anchor="middle">0E</text>
<text x="709.5" y="259.5" font-size="13.3" fill="#a8a8a8" text-anchor="middle">40E</text>
<text x="852.5" y="492.5" font-size="13.3" fill="#a8a8a8" text-anchor="middle">80E</text>
<text x="814.0" y="765.5" font-size="13.3" fill="#a8a8a8" text-anchor="middle">120E</text>
<text x="602.0" y="950.5" font-size="13.3" fill="#a8a8a8" text-anchor="middle">160E</text>
<text x="320.5" y="955.5" font-size="13.3" fill="#a8a8a8" text-anchor="middle">160W</text>
<text x="90.0" y="777.5" font-size="13.3" fill="#a8a8a8" text-anchor="middle">120W</text>
<text x="41.5" y="489.5" font-size="13.3" fill="#a8a8a8" text-anchor="middle">80W</text>
<text x="192.4" y="242.9" font-size="13.3" fill="#a8a8a8" text-anchor="middle">40W</text>
<defs><clipPath id="miniclip"><circle cx="1068.8" cy="201.3" r="147.6"/></clipPath></defs>
<g clip-path="url(#miniclip)">
<polygon points="946.5,120.0 950.0,121.0 953.0,128.0 955.0,140.0 960.0,148.0 966.0,152.0 974.0,152.0 985.0,154.0 994.0,160.0 999.0,168.0 1001.0,178.0 1001.3,182.5 1009.0,185.0 1019.8,182.5 1022.5,177.2 1030.0,176.0 1035.7,175.9 1035.7,164.0 1033.0,145.5 1035.7,136.2 1042.3,127.0 1045.0,113.8 1048.9,103.2 1056.8,99.9 1070.0,97.0 1079.1,95.8 1091.1,97.4 1100.0,104.0 1109.2,112.5 1120.0,108.0 1130.4,106.4 1139.4,115.5 1154.5,115.5 1165.0,120.0 1175.7,127.5 1178.7,140.0 1178.7,154.7 1168.0,159.0 1160.0,163.0 1166.6,169.8 1178.7,172.8 1188.0,180.0 1193.8,191.0 1195.0,205.0 1193.8,221.1 1191.0,235.0 1187.7,245.3 1180.0,258.0 1172.6,269.4 1168.0,282.0 1160.6,293.6 1140.0,297.0 1120.0,304.4 1105.9,304.4 1093.3,303.1 1083.9,298.1 1084.5,288.1 1090.8,278.0 1089.6,270.4 1082.0,266.7 1085.8,260.4 1092.1,257.9 1092.1,250.3 1087.0,240.3 1079.5,232.7 1068.2,222.6 1058.1,215.1 1046.8,213.8 1050.6,222.6 1053.1,230.2 1050.6,237.7 1048.0,242.8 1040.5,246.5 1041.8,252.8 1044.3,261.6 1038.0,265.4 1022.9,265.4 1007.8,259.1 997.7,255.3 995.2,245.3 990.2,237.7 990.2,231.4 982.0,226.0 972.6,220.1 972.6,210.0 974.9,200.0 976.2,195.7 974.9,182.5 965.7,171.9 953.8,156.0 946.0,146.0 943.2,137.5 943.0,128.0" fill="#efefdc" stroke="#efefdc" stroke-width="1.5" stroke-linejoin="round"/>
<polygon points="1021.5,157 1027,155 1030,160 1029,168 1024,171 1021,165" fill="#efefdc"/><polygon points="1020,175 1024,174 1025,180 1021,181" fill="#efefdc"/>
<polygon points="946.5,120.0 950.0,121.0 953.0,128.0 955.0,140.0 960.0,148.0 966.0,152.0 974.0,152.0 985.0,154.0 994.0,160.0 999.0,168.0 1001.0,178.0 1001.3,182.5 1009.0,185.0 1019.8,182.5 1022.5,177.2 1030.0,176.0 1035.7,175.9 1035.7,164.0 1033.0,145.5 1035.7,136.2 1042.3,127.0 1045.0,113.8 1048.9,103.2 1056.8,99.9 1070.0,97.0 1079.1,95.8 1091.1,97.4 1100.0,104.0 1109.2,112.5 1120.0,108.0 1130.4,106.4 1139.4,115.5 1154.5,115.5 1165.0,120.0 1175.7,127.5 1178.7,140.0 1178.7,154.7 1168.0,159.0 1160.0,163.0 1166.6,169.8 1178.7,172.8 1188.0,180.0 1193.8,191.0 1195.0,205.0 1193.8,221.1 1191.0,235.0 1187.7,245.3 1180.0,258.0 1172.6,269.4 1168.0,282.0 1160.6,293.6 1140.0,297.0 1120.0,304.4 1105.9,304.4 1093.3,303.1 1083.9,298.1 1084.5,288.1 1090.8,278.0 1089.6,270.4 1082.0,266.7 1085.8,260.4 1092.1,257.9 1092.1,250.3 1087.0,240.3 1079.5,232.7 1068.2,222.6 1058.1,215.1 1046.8,213.8 1050.6,222.6 1053.1,230.2 1050.6,237.7 1048.0,242.8 1040.5,246.5 1041.8,252.8 1044.3,261.6 1038.0,265.4 1022.9,265.4 1007.8,259.1 997.7,255.3 995.2,245.3 990.2,237.7 990.2,231.4 982.0,226.0 972.6,220.1 972.6,210.0 974.9,200.0 976.2,195.7 974.9,182.5 965.7,171.9 953.8,156.0 946.0,146.0 943.2,137.5 943.0,128.0" fill="none" stroke="#f6a8a0" stroke-width="4" stroke-dasharray="1.5 2.5" stroke-linejoin="round" opacity="0.75"/>
<polygon points="972,166 990,165 1000,178 1003,190 1000,196 990,195 980,185 974,176" fill="#f7b4ab" opacity="0.35"/>
<polygon points="946.5,119.5 950.0,121.0 951.0,128.0 950.0,136.0 956.0,146.0 962.0,153.0 970.0,152.0 978.0,151.0 986.0,153.0 994.0,159.0 999.0,167.0 1000.0,175.0 997.0,176.0 993.0,168.0 986.0,162.0 978.0,161.0 973.0,162.0 970.0,167.0 963.0,166.0 958.0,160.0 954.0,156.0 947.0,148.0 943.0,140.0 943.0,131.0 944.0,124.0" fill="#f00000" stroke="#f00000" stroke-width="1" stroke-linejoin="round"/>
<polygon points="1001.0,195.0 1005.0,192.5 1012.0,192.5 1017.0,194.0 1014.0,198.0 1007.0,199.5 1001.5,198.5" fill="#f00000" stroke="#f00000" stroke-width="1" stroke-linejoin="round"/>
<polygon points="962.0,162.0 968.0,160.5 975.0,162.0 980.0,165.0 976.0,168.5 969.0,168.0 963.0,166.0" fill="#f00000" stroke="#f00000" stroke-width="1" stroke-linejoin="round"/>
<polygon points="1046.8,213.8 1053.1,212.6 1060.6,215.1 1065.7,220.1 1073.2,222.6 1078.2,228.9 1085.8,234.0 1090.8,244.0 1092.1,252.8 1092.0,260.4 1093.3,270.4 1095.8,280.5 1100.9,293.1 1103.4,299.4 1098.4,301.9 1090.8,302.5 1084.5,298.1 1084.5,288.1 1090.8,278.0 1090.8,273.0 1085.8,265.4 1082.0,265.4 1080.8,262.9 1085.8,257.9 1088.3,252.8 1083.3,244.0 1075.7,236.5 1066.9,230.2 1058.1,225.2 1050.6,217.6" fill="#f00000" stroke="#f00000" stroke-width="1" stroke-linejoin="round"/>
<polygon points="1068.0,104.0 1072.0,101.5 1080.0,101.0 1087.0,101.5 1090.0,104.0 1086.0,106.0 1076.0,106.0 1069.0,107.0" fill="#f00000" stroke="#f00000" stroke-width="1" stroke-linejoin="round"/>
<polygon points="1104.0,111.0 1108.0,112.0 1113.0,115.0 1111.0,117.5 1106.0,116.0" fill="#f00000" stroke="#f00000" stroke-width="1" stroke-linejoin="round"/>
<polygon points="1041.0,149.0 1045.0,148.0 1049.0,152.0 1050.0,157.0 1046.0,160.0 1041.0,158.0" fill="#f00000" stroke="#f00000" stroke-width="1" stroke-linejoin="round"/>
<polygon points="1151.0,165.0 1158.0,161.5 1165.0,162.0 1163.0,167.0 1155.0,170.0 1150.0,169.0" fill="#f00000" stroke="#f00000" stroke-width="1" stroke-linejoin="round"/>
<polygon points="1176.0,148.0 1179.0,151.0 1180.0,158.0 1177.0,157.0" fill="#f00000" stroke="#f00000" stroke-width="1" stroke-linejoin="round"/>
<polygon points="990.0,228.0 996.0,227.0 1002.0,231.0 1003.0,236.0 998.0,237.0 991.0,235.0" fill="#f00000" stroke="#f00000" stroke-width="1" stroke-linejoin="round"/>
<polygon points="1009.0,242.0 1013.0,240.5 1016.0,243.0 1012.0,245.0" fill="#f00000" stroke="#f00000" stroke-width="1" stroke-linejoin="round"/>
<polygon points="1010.0,251.0 1014.0,250.0 1018.0,254.0 1022.0,258.0 1020.0,262.0 1012.0,260.0 1009.0,256.0" fill="#f00000" stroke="#f00000" stroke-width="1" stroke-linejoin="round"/>
<polygon points="1025.0,258.0 1032.0,256.0 1040.0,259.0 1039.0,263.0 1030.0,264.0 1025.0,262.0" fill="#f00000" stroke="#f00000" stroke-width="1" stroke-linejoin="round"/>
<g stroke="#ffffff" stroke-width="0.9" stroke-dasharray="1 1.6" opacity="0.9"><line x1="1068.8" y1="199.8" x2="1068.8" y2="41.3"/><line x1="1069.8" y1="200.2" x2="1171.6" y2="78.7"/><line x1="1070.3" y1="201.0" x2="1226.4" y2="173.5"/><line x1="1070.1" y1="202.1" x2="1207.4" y2="281.3"/><line x1="1069.3" y1="202.7" x2="1123.5" y2="351.7"/><line x1="1068.3" y1="202.7" x2="1014.1" y2="351.7"/><line x1="1067.5" y1="202.1" x2="930.2" y2="281.3"/><line x1="1067.3" y1="201.0" x2="911.2" y2="173.5"/><line x1="1067.8" y1="200.2" x2="966.0" y2="78.7"/><circle cx="1068.8" cy="201.3" r="52.5" fill="none"/><circle cx="1068.8" cy="201.3" r="105" fill="none"/></g>
</g>
<circle cx="1068.8" cy="201.3" r="146.4" fill="none" stroke="#c5ccd3" stroke-width="1.2"/>
<circle cx="1068.8" cy="201.3" r="148.0" fill="none" stroke="#556575" stroke-width="1.6"/>
<defs><linearGradient id="hgrad" gradientUnits="userSpaceOnUse" x1="0" y1="725.2" x2="0" y2="388.5"><stop offset="0.000" stop-color="#313695" stop-opacity="0.75"/><stop offset="0.042" stop-color="#394fa1" stop-opacity="0.75"/><stop offset="0.083" stop-color="#416aaf" stop-opacity="0.75"/><stop offset="0.125" stop-color="#5183bb" stop-opacity="0.75"/><stop offset="0.167" stop-color="#6399c7" stop-opacity="0.75"/><stop offset="0.208" stop-color="#78b0d3" stop-opacity="0.75"/><stop offset="0.250" stop-color="#90c3dd" stop-opacity="0.75"/><stop offset="0.292" stop-color="#a6d5e7" stop-opacity="0.75"/><stop offset="0.333" stop-color="#bde2ee" stop-opacity="0.75"/><stop offset="0.375" stop-color="#d4edf4" stop-opacity="0.75"/><stop offset="0.417" stop-color="#e5f5ef" stop-opacity="0.75"/><stop offset="0.458" stop-color="#f2fad6" stop-opacity="0.75"/><stop offset="0.500" stop-color="#fffebe" stop-opacity="0.75"/><stop offset="0.542" stop-color="#fff2ac" stop-opacity="0.75"/><stop offset="0.583" stop-color="#fee597" stop-opacity="0.75"/><stop offset="0.625" stop-color="#fed283" stop-opacity="0.75"/><stop offset="0.667" stop-color="#fdbf71" stop-opacity="0.75"/><stop offset="0.708" stop-color="#fca85e" stop-opacity="0.75"/><stop offset="0.750" stop-color="#f88c51" stop-opacity="0.75"/><stop offset="0.792" stop-color="#f57245" stop-opacity="0.75"/><stop offset="0.833" stop-color="#ea5739" stop-opacity="0.75"/><stop offset="0.875" stop-color="#dd3d2d" stop-opacity="0.75"/><stop offset="0.917" stop-color="#ce2827" stop-opacity="0.75"/><stop offset="0.958" stop-color="#b91326" stop-opacity="0.75"/><stop offset="1.000" stop-color="#a50026" stop-opacity="0.75"/></linearGradient></defs>
<polygon points="935.5,490.7 936.7,490.7 936.7,494.7 938.3,494.7 938.3,498.6 941.4,498.6 941.4,502.6 947.4,502.6 947.4,506.5 952.5,506.5 952.5,511.7 963.2,511.7 963.2,514.5 972.3,514.5 972.3,518.4 982.2,518.4 982.2,522.4 985.0,522.4 985.0,526.3 988.2,526.3 988.2,530.3 990.9,530.3 990.9,534.3 996.9,534.3 996.9,537.4 1016.7,537.4 1016.7,540.2 1008.8,540.2 1008.8,544.2 996.9,544.2 996.9,546.1 1004.8,546.1 1004.8,548.1 1000.8,548.1 1000.8,558.0 996.9,558.0 996.9,562.0 996.1,562.0 996.1,565.9 1004.8,565.9 1004.8,573.9 1004.0,573.9 1004.0,579.8 1000.8,579.8 1000.8,585.7 1002.8,585.7 1002.8,589.7 1004.0,589.7 1004.0,595.6 1008.8,595.6 1008.8,599.6 1004.8,599.6 1004.8,605.5 1006.8,605.5 1006.8,613.5 1006.8,613.5 1006.8,619.4 1010.7,619.4 1010.7,625.3 1013.5,625.3 1013.5,629.3 1018.7,629.3 1018.7,633.3 1028.6,633.3 1028.6,637.2 1025.4,637.2 1025.4,643.2 1020.6,643.2 1020.6,649.1 1016.7,649.1 1016.7,655.0 1019.9,655.0 1019.9,661.0 1015.1,661.0 1015.1,666.9 1012.7,666.9 1012.7,672.9 1008.8,672.9 1008.8,676.8 1010.7,676.8 1010.7,682.8 1009.6,682.8 1009.6,686.7 1012.7,686.7 1012.7,690.7 1014.7,690.7 1014.7,693.5 1026.6,693.5 1026.6,696.6 1031.7,696.6 1031.7,700.6 1025.4,700.6 1025.4,704.6 1020.6,704.6 1020.6,708.5 1002.8,708.5 1002.8,712.5 1011.9,712.5 1011.9,716.4 1012.7,716.4 1012.7,720.4 1006.8,720.4 1006.8,722.0 961.2,722.0 961.2,724.8 935.5,724.8 935.5,725.2" fill="url(#hgrad)"/>
<polygon points="1132.5,460.9 1133.6,460.9 1133.6,463.8 1134.6,463.8 1134.6,466.6 1136.5,466.6 1136.5,469.4 1137.8,469.4 1137.8,472.3 1141.2,472.3 1141.2,475.1 1146.8,475.1 1146.8,477.9 1150.2,477.9 1150.2,483.0 1161.9,483.0 1161.9,486.0 1169.9,486.0 1169.9,489.2 1179.9,489.2 1179.9,492.1 1181.7,492.1 1181.7,495.1 1186.1,495.1 1186.1,497.7 1184.6,497.7 1184.6,500.0 1183.1,500.0 1183.1,502.8 1193.1,502.8 1193.1,506.2 1197.8,506.2 1197.8,511.9 1221.9,511.9 1221.9,513.8 1204.4,513.8 1204.4,516.6 1193.1,516.6 1193.1,520.0 1214.8,520.0 1214.8,522.6 1204.4,522.6 1204.4,525.1 1202.5,525.1 1202.5,527.9 1198.7,527.9 1198.7,530.8 1191.2,530.8 1191.2,534.0 1197.8,534.0 1197.8,536.8 1195.0,536.8 1195.0,539.2 1196.8,539.2 1196.8,540.0 1196.7,540.0 1196.7,542.2 1203.6,542.2 1203.6,545.4 1202.1,545.4 1202.1,549.8 1202.8,549.8 1202.8,554.1 1198.9,554.1 1198.9,559.5 1202.1,559.5 1202.1,563.9 1202.8,563.9 1202.8,568.2 1202.1,568.2 1202.1,572.5 1200.0,572.5 1200.0,576.4 1207.5,576.4 1207.5,579.0 1202.1,579.0 1202.1,583.4 1203.2,583.4 1203.2,587.7 1203.6,587.7 1203.6,596.4 1203.2,596.4 1203.2,600.7 1204.3,600.7 1204.3,604.0 1207.5,604.0 1207.5,607.2 1210.8,607.2 1210.8,611.6 1213.0,611.6 1213.0,614.8 1214.5,614.8 1214.5,618.1 1223.8,618.1 1223.8,622.0 1227.5,622.0 1227.5,625.7 1224.9,625.7 1224.9,628.9 1220.6,628.9 1220.6,633.3 1213.0,633.3 1213.0,637.6 1211.2,637.6 1211.2,640.9 1220.6,640.9 1220.6,644.1 1214.1,644.1 1214.1,648.4 1215.1,648.4 1215.1,652.8 1213.0,652.8 1213.0,657.1 1209.3,657.1 1209.3,661.5 1208.6,661.5 1208.6,665.8 1207.5,665.8 1207.5,670.1 1208.6,670.1 1208.6,674.5 1208.0,674.5 1208.0,678.8 1209.3,678.8 1209.3,681.0 1214.5,681.0 1214.5,686.4 1224.9,686.4 1224.9,689.7 1228.6,689.7 1228.6,692.9 1226.0,692.9 1226.0,696.2 1221.6,696.2 1221.6,700.5 1216.2,700.5 1216.2,703.8 1206.5,703.8 1206.5,705.3 1201.0,705.3 1201.0,708.1 1210.8,708.1 1210.8,711.3 1209.7,711.3 1209.7,716.8 1164.8,716.8 1164.8,719.6 1137.7,719.6 1137.7,722.2 1134.9,722.2 1134.9,724.8 1132.9,724.8 1132.9,727.0 1132.5,727.0" fill="#4141a3"/>
<rect x="935.5" y="371.6" width="102.0" height="370.8" fill="none" stroke="#000" stroke-width="1.1"/>
<rect x="1132.5" y="371.3" width="102.0" height="370.8" fill="none" stroke="#000" stroke-width="1.1"/>
<line x1="930.6" y1="725.2" x2="935.5" y2="725.2" stroke="#000" stroke-width="1.1"/>
<text x="914.90" y="729.95" font-family="'DejaVu Sans',sans-serif" font-size="13.9" fill="#000">0</text>
<line x1="930.6" y1="655.1" x2="935.5" y2="655.1" stroke="#000" stroke-width="1.1"/>
<text x="887.90" y="659.80" font-family="'DejaVu Sans',sans-serif" font-size="13.9" fill="#000">1000</text>
<line x1="930.6" y1="584.9" x2="935.5" y2="584.9" stroke="#000" stroke-width="1.1"/>
<text x="887.90" y="589.65" font-family="'DejaVu Sans',sans-serif" font-size="13.9" fill="#000">2000</text>
<line x1="930.6" y1="514.8" x2="935.5" y2="514.8" stroke="#000" stroke-width="1.1"/>
<text x="887.90" y="519.50" font-family="'DejaVu Sans',sans-serif" font-size="13.9" fill="#000">3000</text>
<line x1="930.6" y1="444.6" x2="935.5" y2="444.6" stroke="#000" stroke-width="1.1"/>
<text x="887.90" y="449.35" font-family="'DejaVu Sans',sans-serif" font-size="13.9" fill="#000">4000</text>
<line x1="930.6" y1="374.5" x2="935.5" y2="374.5" stroke="#000" stroke-width="1.1"/>
<text x="887.90" y="379.20" font-family="'DejaVu Sans',sans-serif" font-size="13.9" fill="#000">5000</text>
<line x1="1127.6" y1="719.7" x2="1132.5" y2="719.7" stroke="#000" stroke-width="1.1"/>
<text x="1111.60" y="724.45" font-family="'DejaVu Sans',sans-serif" font-size="13.9" fill="#000">0</text>
<line x1="1127.6" y1="642.0" x2="1132.5" y2="642.0" stroke="#000" stroke-width="1.1"/>
<text x="1084.60" y="646.70" font-family="'DejaVu Sans',sans-serif" font-size="13.9" fill="#000">1000</text>
<line x1="1127.6" y1="564.2" x2="1132.5" y2="564.2" stroke="#000" stroke-width="1.1"/>
<text x="1084.60" y="568.95" font-family="'DejaVu Sans',sans-serif" font-size="13.9" fill="#000">2000</text>
<line x1="1127.6" y1="486.5" x2="1132.5" y2="486.5" stroke="#000" stroke-width="1.1"/>
<text x="1084.60" y="491.20" font-family="'DejaVu Sans',sans-serif" font-size="13.9" fill="#000">3000</text>
<line x1="1127.6" y1="408.7" x2="1132.5" y2="408.7" stroke="#000" stroke-width="1.1"/>
<text x="1084.60" y="413.45" font-family="'DejaVu Sans',sans-serif" font-size="13.9" fill="#000">4000</text>
<text x="939.80" y="761.00" font-family="'DejaVu Sans',sans-serif" font-size="13.9" fill="#000" textLength="79.12" lengthAdjust="spacing">Plot Range</text>
<text x="1136.60" y="761.00" font-family="'DejaVu Sans',sans-serif" font-size="13.9" fill="#000" textLength="77.10" lengthAdjust="spacing">Full Range</text>
<text x="-12.00" y="0.00" font-family="'DejaVu Sans',sans-serif" font-size="13.9" fill="#000" transform="translate(1076.2,558.6) rotate(-90)" text-anchor="middle">(m)</text>
<polygon points="987.9,873.6 991.3,873.6 992.5,858.3 995.8,858.3 1000.4,862.3 1000.9,845.3 1001.5,823.8 1003.8,823.8 1004.3,834.0 1007.2,827.7 1008.3,819.2 1012.8,818.1 1015.7,804.5 1019.0,804.5 1020.8,851.0 1022.5,862.3 1026.0,870.0 1028.7,879.2 1032.0,888.0 1036.0,885.0 1040.0,890.0 1043.4,911.0 1046.0,890.0 1050.0,885.0 1053.6,897.4 1056.0,897.0 1060.0,878.0 1064.0,884.0 1068.3,882.6 1072.0,870.0 1079.6,866.8 1086.4,858.9 1091.5,856.6 1092.1,835.1 1093.3,835.7 1094.3,845.0 1099.5,850.2 1105.8,852.3 1112.0,856.4 1120.3,866.8 1126.5,871.0 1128.6,877.2 1132.7,885.5 1139.0,902.0 1141.0,906.2 1146.0,898.0 1150.0,896.0 1152.0,930.0 1153.0,995.5 1141.0,996.5 1099.5,997.6 1058.0,997.6 1037.3,996.5 1016.5,995.5 1007.2,993.4 1006.1,976.8 1004.0,956.0 1000.9,931.1 997.8,906.2 994.7,886.5 991.3,886.0 987.9,886.0" fill="#1f77b4"/>
<polygon points="1023.0,822.6 1027.5,822.6 1028.1,837.4 1026.4,843.0 1027.5,851.0 1028.7,879.2 1022.5,862.3" fill="#1f77b4" opacity="0.75"/>
<polygon points="1035.5,877.0 1036.6,861.1 1038.9,861.1 1040.0,879.2 1041.7,886.0 1032.0,883.8" fill="#1f77b4" opacity="0.60"/>
<polygon points="1046.8,856.6 1048.5,877.0 1052.5,877.0 1053.6,897.4 1045.0,886.0" fill="#1f77b4" opacity="0.50"/>
<polygon points="1058.1,870.2 1059.2,845.3 1061.5,844.2 1063.8,863.4 1066.0,884.9 1060.0,880.0" fill="#1f77b4" opacity="0.60"/>
<polygon points="1069.4,856.6 1074.0,848.7 1075.1,839.6 1076.2,845.3 1076.2,858.9 1079.6,866.8 1072.0,870.0" fill="#1f77b4" opacity="0.60"/>
<polygon points="1150.0,896.0 1157.6,897.9 1162.8,897.9 1164.9,906.2 1168.0,924.9 1171.1,951.9 1174.3,962.3 1179.4,962.3 1180.5,972.6 1182.6,981.0 1186.7,985.1 1186.7,996.5 1153.0,995.5" fill="#1f77b4" opacity="0.45"/>
<polygon points="1160.0,898.0 1165.0,900.0 1170.0,940.0 1175.0,985.0 1168.0,990.0 1163.0,950.0 1160.0,920.0" fill="#1f77b4" opacity="0.60"/>
<polygon points="1150.0,896.0 1155.0,900.0 1156.0,990.0 1152.0,995.0" fill="#1f77b4" opacity="0.50"/>
<rect x="979.6" y="795.5" width="216.6" height="211.4" fill="none" stroke="#000" stroke-width="1.1"/>
<line x1="974.7" y1="994.9" x2="979.6" y2="994.9" stroke="#000" stroke-width="1.1"/>
<text x="959.30" y="999.65" font-family="'DejaVu Sans',sans-serif" font-size="13.9" fill="#000">0</text>
<line x1="974.7" y1="950.3" x2="979.6" y2="950.3" stroke="#000" stroke-width="1.1"/>
<text x="932.30" y="955.05" font-family="'DejaVu Sans',sans-serif" font-size="13.9" fill="#000">1000</text>
<line x1="974.7" y1="905.7" x2="979.6" y2="905.7" stroke="#000" stroke-width="1.1"/>
<text x="932.30" y="910.45" font-family="'DejaVu Sans',sans-serif" font-size="13.9" fill="#000">2000</text>
<line x1="974.7" y1="861.1" x2="979.6" y2="861.1" stroke="#000" stroke-width="1.1"/>
<text x="932.30" y="865.85" font-family="'DejaVu Sans',sans-serif" font-size="13.9" fill="#000">3000</text>
<line x1="974.7" y1="816.5" x2="979.6" y2="816.5" stroke="#000" stroke-width="1.1"/>
<text x="932.30" y="821.25" font-family="'DejaVu Sans',sans-serif" font-size="13.9" fill="#000">4000</text>
<line x1="1048.5" y1="1006.9" x2="1048.5" y2="1011.8" stroke="#000" stroke-width="1.1"/>
<text x="1033.50" y="1027.70" font-family="'DejaVu Sans',sans-serif" font-size="13.9" fill="#000">−80</text>
<line x1="1121.4" y1="1006.9" x2="1121.4" y2="1011.8" stroke="#000" stroke-width="1.1"/>
<text x="1106.40" y="1027.70" font-family="'DejaVu Sans',sans-serif" font-size="13.9" fill="#000">−70</text>
<line x1="1194.3" y1="1006.9" x2="1194.3" y2="1011.8" stroke="#000" stroke-width="1.1"/>
<text x="1179.30" y="1027.70" font-family="'DejaVu Sans',sans-serif" font-size="13.9" fill="#000">−60</text>
<text x="1035.00" y="1047.50" font-family="'DejaVu Sans',sans-serif" font-size="13.9" fill="#000">Latitude (degs)</text>
<text x="-32.00" y="0.00" font-family="'DejaVu Sans',sans-serif" font-size="13.9" fill="#000" transform="translate(922.6,901.2) rotate(-90)" text-anchor="middle">elevation</text>
<defs><linearGradient id="cbgrad" x1="0" y1="0" x2="1" y2="0"><stop offset="0.000" stop-color="#313695"/><stop offset="0.025" stop-color="#36459c"/><stop offset="0.050" stop-color="#3a54a4"/><stop offset="0.075" stop-color="#4065ac"/><stop offset="0.100" stop-color="#4574b3"/><stop offset="0.125" stop-color="#5183bb"/><stop offset="0.150" stop-color="#5c90c2"/><stop offset="0.175" stop-color="#679ec9"/><stop offset="0.200" stop-color="#74add1"/><stop offset="0.225" stop-color="#81b7d7"/><stop offset="0.250" stop-color="#90c3dd"/><stop offset="0.275" stop-color="#9dcee3"/><stop offset="0.300" stop-color="#aad8e9"/><stop offset="0.325" stop-color="#b9e0ed"/><stop offset="0.350" stop-color="#c5e6f0"/><stop offset="0.375" stop-color="#d4edf4"/><stop offset="0.400" stop-color="#e0f3f8"/><stop offset="0.425" stop-color="#e7f6eb"/><stop offset="0.450" stop-color="#f0f9db"/><stop offset="0.475" stop-color="#f7fcce"/><stop offset="0.500" stop-color="#fffebe"/><stop offset="0.525" stop-color="#fff7b3"/><stop offset="0.550" stop-color="#fff0a8"/><stop offset="0.575" stop-color="#fee79b"/><stop offset="0.600" stop-color="#fee090"/><stop offset="0.625" stop-color="#fed283"/><stop offset="0.650" stop-color="#fdc778"/><stop offset="0.675" stop-color="#fdbb6d"/><stop offset="0.700" stop-color="#fdad60"/><stop offset="0.725" stop-color="#fb9d59"/><stop offset="0.750" stop-color="#f88c51"/><stop offset="0.775" stop-color="#f67c4a"/><stop offset="0.800" stop-color="#f46d43"/><stop offset="0.825" stop-color="#ec5c3b"/><stop offset="0.850" stop-color="#e54e35"/><stop offset="0.875" stop-color="#dd3d2d"/><stop offset="0.900" stop-color="#d62f27"/><stop offset="0.925" stop-color="#ca2427"/><stop offset="0.950" stop-color="#bd1726"/><stop offset="0.975" stop-color="#b10b26"/><stop offset="1.000" stop-color="#a50026"/></linearGradient></defs>
<rect x="134" y="985.6" width="636.2" height="21.2" fill="url(#cbgrad)"/>
<polygon points="134,985.6 101.3,996.2 134,1006.8" fill="#3d4170"/>
<polygon points="770.2,985.6 801.3,996.2 770.2,1006.8" fill="#a65452"/>
<polygon points="134,985.6 770.2,985.6 801.3,996.2 770.2,1006.8 134,1006.8 101.3,996.2" fill="none" stroke="#000" stroke-width="1.1" stroke-linejoin="miter"/>
<line x1="134.5" y1="1006.8" x2="134.5" y2="1011.8" stroke="#000" stroke-width="1.1"/>
<text x="130.00" y="1027.80" font-family="'DejaVu Sans',sans-serif" font-size="13.9" fill="#000">0</text>
<line x1="267.0" y1="1006.8" x2="267.0" y2="1011.8" stroke="#000" stroke-width="1.1"/>
<text x="248.45" y="1027.80" font-family="'DejaVu Sans',sans-serif" font-size="13.9" fill="#000">1000</text>
<line x1="399.4" y1="1006.8" x2="399.4" y2="1011.8" stroke="#000" stroke-width="1.1"/>
<text x="381.40" y="1027.80" font-family="'DejaVu Sans',sans-serif" font-size="13.9" fill="#000">2000</text>
<line x1="531.9" y1="1006.8" x2="531.9" y2="1011.8" stroke="#000" stroke-width="1.1"/>
<text x="513.85" y="1027.80" font-family="'DejaVu Sans',sans-serif" font-size="13.9" fill="#000">3000</text>
<line x1="664.3" y1="1006.8" x2="664.3" y2="1011.8" stroke="#000" stroke-width="1.1"/>
<text x="646.30" y="1027.80" font-family="'DejaVu Sans',sans-serif" font-size="13.9" fill="#000">4000</text>
<text x="401.60" y="1048.90" font-family="'DejaVu Sans',sans-serif" font-size="13.9" fill="#000" textLength="99.08" lengthAdjust="spacing">elevation (m)</text>
<text x="8.10" y="998.70" font-family="'DejaVu Sans',sans-serif" font-size="11.6" fill="#000" textLength="79.80" lengthAdjust="spacing">[min=-63.30]</text>
<text x="-6.40" y="1029.80" font-family="'DejaVu Sans',sans-serif" font-size="11.6" fill="#000">nvals=1516292</text>
<text x="807.60" y="998.90" font-family="'DejaVu Sans',sans-serif" font-size="11.6" fill="#000" textLength="94.47" lengthAdjust="spacing">[max=4255.22]</text>
<text x="800.70" y="1029.90" font-family="'DejaVu Sans',sans-serif" font-size="11.6" fill="#000" textLength="90.75" lengthAdjust="spacing">mean=1450.31</text>
<text x="801.30" y="1048.70" font-family="'DejaVu Sans',sans-serif" font-size="11.6" fill="#000" textLength="58.04" lengthAdjust="spacing">σ=858.53</text></svg></body></html>
